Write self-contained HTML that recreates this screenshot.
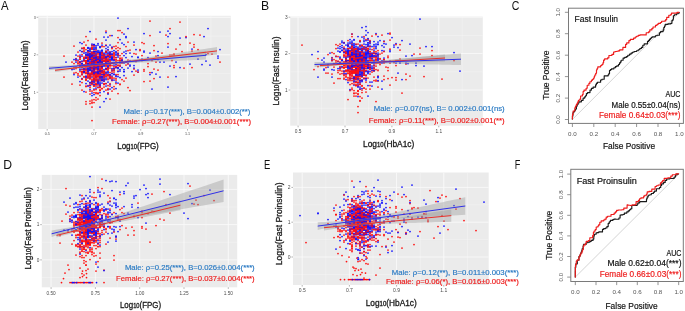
<!DOCTYPE html>
<html><head><meta charset="utf-8"><title>Figure</title>
<style>html,body{margin:0;padding:0;background:#fff;overflow:hidden}svg{display:block;will-change:transform}</style>
</head><body><svg width="685" height="311" viewBox="0 0 685 311" font-family="Liberation Sans, sans-serif"><defs><clipPath id="clipA"><rect x="38.2" y="15.8" width="192.60000000000002" height="113.2"/></clipPath><clipPath id="clipB"><rect x="290.2" y="16.6" width="192.60000000000002" height="109.1"/></clipPath><clipPath id="clipD"><rect x="41.8" y="174.9" width="195.39999999999998" height="112.4"/></clipPath><clipPath id="clipE"><rect x="293.0" y="172.5" width="195.7" height="112.5"/></clipPath></defs>
<rect width="685" height="311" fill="#fff"/>
<rect x="38.2" y="15.8" width="192.60000000000002" height="113.2" fill="#EBEBEB"/>
<g clip-path="url(#clipA)">
<line x1="70.58500000000001" y1="15.8" x2="70.58500000000001" y2="129.0" stroke="#f6f6f6" stroke-width="0.45"/>
<line x1="117.35500000000002" y1="15.8" x2="117.35500000000002" y2="129.0" stroke="#f6f6f6" stroke-width="0.45"/>
<line x1="164.125" y1="15.8" x2="164.125" y2="129.0" stroke="#f6f6f6" stroke-width="0.45"/>
<line x1="210.89499999999998" y1="15.8" x2="210.89499999999998" y2="129.0" stroke="#f6f6f6" stroke-width="0.45"/>
<line x1="38.2" y1="36.05" x2="230.8" y2="36.05" stroke="#f6f6f6" stroke-width="0.45"/>
<line x1="38.2" y1="73.55" x2="230.8" y2="73.55" stroke="#f6f6f6" stroke-width="0.45"/>
<line x1="38.2" y1="111.05" x2="230.8" y2="111.05" stroke="#f6f6f6" stroke-width="0.45"/>
<line x1="47.2" y1="15.8" x2="47.2" y2="129.0" stroke="#fafafa" stroke-width="0.85"/>
<line x1="93.97" y1="15.8" x2="93.97" y2="129.0" stroke="#fafafa" stroke-width="0.85"/>
<line x1="140.74" y1="15.8" x2="140.74" y2="129.0" stroke="#fafafa" stroke-width="0.85"/>
<line x1="187.51000000000005" y1="15.8" x2="187.51000000000005" y2="129.0" stroke="#fafafa" stroke-width="0.85"/>
<line x1="38.2" y1="17.299999999999997" x2="230.8" y2="17.299999999999997" stroke="#fafafa" stroke-width="0.85"/>
<line x1="38.2" y1="54.8" x2="230.8" y2="54.8" stroke="#fafafa" stroke-width="0.85"/>
<line x1="38.2" y1="92.3" x2="230.8" y2="92.3" stroke="#fafafa" stroke-width="0.85"/>
<path d="M102 76h0M84 66h0M98 68.5h0M94 68.5h0M98 80.5h0M94 55h0M112 73h0M100 58h0M92 91h0M80 61.5h0M108 55.5h0M168 77h0M98 52h0M96 92.5h0M94 71h0M106 51h0M110 75h0M98 75h0M154 78.5h0" stroke="#FF1010" stroke-width="1.75" stroke-linecap="round"/>
<path d="M170 33.5h0M96 63h0M90 65h0M102 62.5h0M90 48h0M106 52.5h0M84 72.5h0M104 61h0M92 77h0M118 83h0M126 36.5h0M92 54h0M98 67h0M126 62h0M96 58.5h0" stroke="#1010FF" stroke-width="1.75" stroke-linecap="round"/>
<path d="M94 57h0M126 65h0M82 66.5h0M86 104h0M112 79h0M158 70h0M94 70h0M118 37.5h0M92 61.5h0M90 62h0M84 58.5h0M90 74.5h0M100 58h0M100 84.5h0M94 62.5h0M102 68.5h0M86 101.5h0M90 94h0M104 58h0M120 30.5h0" stroke="#FF1010" stroke-width="1.75" stroke-linecap="round"/>
<path d="M98 68h0M96 76.5h0M108 82h0M92 55.5h0M106 79.5h0M164 62h0M86 62h0M88 65.5h0M82 71.5h0M96 65h0M96 55h0M88 70h0M110 75h0M206 54.5h0M92 64.5h0" stroke="#1010FF" stroke-width="1.75" stroke-linecap="round"/>
<path d="M90 101h0M102 57.5h0M96 76.5h0M98 53.5h0M120 65h0M98 62.5h0M92 107h0M90 68.5h0M100 61.5h0M86 60.5h0M116 83.5h0M88 68.5h0M112 47.5h0M102 52.5h0M92 68.5h0M108 50h0M112 54.5h0M84 50h0M92 79h0M104 46.5h0" stroke="#FF1010" stroke-width="1.75" stroke-linecap="round"/>
<path d="M220 49.5h0M90 70.5h0M130 53h0M168 87h0M100 79.5h0M96 88h0M90 58h0M96 75h0M108 75.5h0M88 70.5h0M94 69.5h0M78 60h0M82 43.5h0M138 72h0M96 63h0M98 56.5h0" stroke="#1010FF" stroke-width="1.75" stroke-linecap="round"/>
<path d="M102 55.5h0M90 69h0M90 76.5h0M96 59.5h0M96 68h0M90 75.5h0M88 40.5h0M94 45.5h0M92 53h0M72 69h0M104 64.5h0M102 67.5h0M94 74.5h0M86 86.5h0M152 60.5h0M108 58.5h0M82 72h0M88 70h0M104 61h0M82 63.5h0" stroke="#FF1010" stroke-width="1.75" stroke-linecap="round"/>
<path d="M94 44.5h0M84 60h0M104 54h0M102 60.5h0M82 63.5h0M88 61h0M80 70h0M88 60h0M104 69.5h0M92 55h0M160 77h0M110 60h0M120 71h0M144 52h0M152 72.5h0" stroke="#1010FF" stroke-width="1.75" stroke-linecap="round"/>
<path d="M102 72.5h0M90 73.5h0M92 82.5h0M108 61h0M86 60.5h0M96 39h0M90 85.5h0M84 71h0M96 84h0M92 70h0M100 59h0M94 83h0M104 57h0M100 76.5h0M100 90.5h0M114 46.5h0M92 72h0M100 87.5h0M74 63.5h0M104 87h0" stroke="#FF1010" stroke-width="1.75" stroke-linecap="round"/>
<path d="M82 69h0M80 55h0M104 76h0M102 83h0M104 55.5h0M190 64h0M100 59h0M90 69.5h0M90 82.5h0M96 57h0M82 64h0M94 73h0M160 62h0M98 59h0M96 57h0M168 36.5h0" stroke="#1010FF" stroke-width="1.75" stroke-linecap="round"/>
<path d="M102 71h0M118 65.5h0M88 66.5h0M92 59.5h0M174 55h0M88 76.5h0M80 62h0M92 68h0M110 78.5h0M102 70h0M90 67h0M104 60.5h0M110 72.5h0M90 64h0M108 61.5h0M106 65h0M90 59h0M84 71.5h0M90 78h0M148 63.5h0" stroke="#FF1010" stroke-width="1.75" stroke-linecap="round"/>
<path d="M76 55h0M122 43h0M94 89h0M100 73.5h0M88 48h0M150 53h0M92 70h0M106 72h0M106 51.5h0M98 59.5h0M84 68.5h0M94 66.5h0M88 68h0M92 61h0M96 66h0" stroke="#1010FF" stroke-width="1.75" stroke-linecap="round"/>
<path d="M108 75.5h0M120 84h0M64 77h0M98 54h0M94 64h0M104 75h0M150 21h0M114 86.5h0M116 60h0M166 35h0M118 60.5h0M86 63h0M148 66.5h0M118 65h0M92 83.5h0M92 102h0M80 57.5h0M98 84h0M88 54h0M108 79.5h0" stroke="#FF1010" stroke-width="1.75" stroke-linecap="round"/>
<path d="M132 56.5h0M92 74.5h0M88 57.5h0M108 89.5h0M96 58.5h0M218 56h0M88 73.5h0M86 83.5h0M98 43.5h0M92 57.5h0M96 55h0M100 62h0M88 77.5h0M80 69h0M106 51.5h0M96 84.5h0" stroke="#1010FF" stroke-width="1.75" stroke-linecap="round"/>
<path d="M128 50.5h0M88 51h0M96 89.5h0M92 65.5h0M102 70h0M102 77h0M110 76h0M80 63h0M88 73.5h0M90 66.5h0M76 58.5h0M78 52h0M98 81.5h0M104 60h0M98 80h0M106 52h0M114 68h0M106 69h0M150 81h0M94 74h0" stroke="#FF1010" stroke-width="1.75" stroke-linecap="round"/>
<path d="M88 51h0M90 68h0M104 80h0M112 58.5h0M132 71.5h0M90 66.5h0M92 49h0M112 59.5h0M168 31h0M108 74h0M102 71.5h0M94 63.5h0M94 82h0M98 66h0M90 74.5h0" stroke="#1010FF" stroke-width="1.75" stroke-linecap="round"/>
<path d="M98 62.5h0M102 71h0M88 57.5h0M98 61h0M120 62h0M104 84h0M92 74.5h0M94 72h0M94 62h0M98 74h0M82 54.5h0M98 76.5h0M174 67.5h0M92 71h0M100 95.5h0M84 48.5h0M90 49.5h0M102 79.5h0M100 53h0M110 65h0" stroke="#FF1010" stroke-width="1.75" stroke-linecap="round"/>
<path d="M130 60.5h0M202 64.5h0M108 60h0M104 72h0M94 72h0M96 58.5h0M210 65h0M108 65.5h0M198 59h0M104 53h0M92 72h0M128 63h0M96 51.5h0M176 62h0M86 76h0M112 70.5h0" stroke="#1010FF" stroke-width="1.75" stroke-linecap="round"/>
<path d="M86 55h0M92 49h0M200 35h0M98 62h0M80 71.5h0M96 59.5h0M88 56.5h0M90 103.5h0M96 63.5h0M108 93h0M102 53h0M90 56.5h0M92 73h0M94 53.5h0M108 61h0M86 67.5h0M114 54.5h0M82 61.5h0M118 67.5h0M84 69h0" stroke="#FF1010" stroke-width="1.75" stroke-linecap="round"/>
<path d="M114 70h0M92 62.5h0M150 74.5h0M90 78h0M116 54h0M90 67h0M110 77.5h0M86 54h0M100 76.5h0M110 77.5h0M94 51.5h0M92 72h0M90 76h0M110 52h0M112 54h0" stroke="#1010FF" stroke-width="1.75" stroke-linecap="round"/>
<path d="M98 71.5h0M94 79h0M94 53.5h0M104 71.5h0M154 50.5h0M100 57.5h0M94 62.5h0M118 30.5h0M112 65.5h0M90 53.5h0M90 58h0M92 60.5h0M154 69h0M94 64h0M86 61h0M130 50h0M104 55h0M98 60.5h0M134 45h0" stroke="#FF1010" stroke-width="1.75" stroke-linecap="round"/>
<path d="M112 51.5h0M92 58.5h0M100 71h0M92 45.5h0M106 86h0M100 57h0M98 79h0M124 63h0M104 54.5h0M92 53.5h0M94 52h0M114 74h0M102 59h0M76 60h0M116 75.5h0" stroke="#1010FF" stroke-width="1.75" stroke-linecap="round"/>
<path d="M94 69h0M108 57h0M94 75.5h0M120 55.5h0M102 64.5h0M100 90h0M100 67.5h0M92 53.5h0M102 63.5h0M128 42h0M108 60h0M96 68h0M98 77h0M106 45h0M114 59.5h0M112 48.5h0M86 36.5h0M112 62.5h0M100 80.5h0M84 42h0" stroke="#FF1010" stroke-width="1.75" stroke-linecap="round"/>
<path d="M94 67.5h0M88 60h0M88 69h0M126 37.5h0M108 67h0M106 68.5h0M92 53h0M96 77h0M96 63h0M88 53h0M102 59h0M110 74.5h0M90 61h0M96 57.5h0M86 55h0M94 85h0" stroke="#1010FF" stroke-width="1.75" stroke-linecap="round"/>
<path d="M92 67h0M106 65h0M96 97.5h0M88 77h0M104 81h0M84 71h0M98 76h0M82 71.5h0M88 78h0M98 70h0M94 57.5h0M96 56.5h0M108 54h0M106 56h0M98 61h0M82 79h0M120 60.5h0M96 65h0M96 75.5h0M104 61.5h0" stroke="#FF1010" stroke-width="1.75" stroke-linecap="round"/>
<path d="M100 51h0M104 91.5h0M100 69h0M106 64h0M108 71.5h0M100 56.5h0M114 59.5h0M80 50.5h0M100 47.5h0M168 47h0M108 61.5h0M82 56h0M88 50.5h0M80 57h0M100 69.5h0" stroke="#1010FF" stroke-width="1.75" stroke-linecap="round"/>
<path d="M94 56h0M86 64.5h0M110 99h0M116 66h0M94 60h0M180 44.5h0M116 61.5h0M84 60.5h0M120 48.5h0M100 62h0M116 48.5h0M104 61h0M106 59h0M88 74.5h0M110 60h0M134 69h0M94 68.5h0M106 56h0M144 69.5h0M110 65h0" stroke="#FF1010" stroke-width="1.75" stroke-linecap="round"/>
<path d="M106 63h0M98 68h0M104 75.5h0M102 72h0M90 85.5h0M110 84.5h0M106 54h0M110 54h0M86 66h0M104 60.5h0M92 67.5h0M92 59.5h0M88 50.5h0M94 52.5h0M100 52.5h0M74 69h0" stroke="#1010FF" stroke-width="1.75" stroke-linecap="round"/>
<path d="M114 52.5h0M100 57h0M100 63.5h0M118 74.5h0M104 64.5h0M84 66h0M96 55h0M114 66.5h0M100 73.5h0M100 75.5h0M104 76h0M92 73h0M118 71h0M106 69h0M94 61.5h0M78 65h0M94 66.5h0M198 49.5h0M114 53h0M74 46h0" stroke="#FF1010" stroke-width="1.75" stroke-linecap="round"/>
<path d="M88 69h0M180 67.5h0M92 54.5h0M158 55.5h0M94 56h0M92 81h0M120 66h0M102 67.5h0M112 57.5h0M92 95.5h0M92 72.5h0M114 50.5h0M88 66h0M94 78.5h0M108 67.5h0" stroke="#1010FF" stroke-width="1.75" stroke-linecap="round"/>
<path d="M192 51h0M106 76h0M98 63h0M126 78h0M108 93h0M98 76.5h0M102 66h0M96 56h0M86 78h0M96 72.5h0M106 68.5h0M74 73h0M100 53.5h0M84 57h0M144 43.5h0M120 58.5h0M104 84.5h0M208 53.5h0M122 63h0M110 54h0" stroke="#FF1010" stroke-width="1.75" stroke-linecap="round"/>
<path d="M104 64.5h0M80 62h0M80 42.5h0M92 52h0M76 59h0M90 89.5h0M94 47.5h0M98 87h0M134 65.5h0M94 66.5h0M82 63.5h0M98 58h0M94 56h0M90 68.5h0M84 66.5h0M94 70h0" stroke="#1010FF" stroke-width="1.75" stroke-linecap="round"/>
<path d="M90 56.5h0M94 74.5h0M92 76h0M106 58.5h0M106 76.5h0M110 68h0M82 73.5h0M108 67.5h0M100 71h0M90 54h0M86 69h0M84 65h0M190 43h0M92 81h0M174 65.5h0M98 73h0M96 64h0M180 22h0M92 81.5h0M104 54.5h0" stroke="#FF1010" stroke-width="1.75" stroke-linecap="round"/>
<path d="M86 55h0M100 70h0M110 89h0M100 82h0M130 65h0M94 70h0M88 59.5h0M96 60.5h0M204 36.5h0M108 60.5h0M94 79h0M86 63h0M176 76.5h0M88 64.5h0M86 77.5h0" stroke="#1010FF" stroke-width="1.75" stroke-linecap="round"/>
<path d="M106 72.5h0M82 72h0M102 62h0M112 91h0M86 73h0M140 60h0M110 53.5h0M134 75h0M110 62h0M100 60h0M100 78h0M76 72.5h0M100 71.5h0M106 31h0M138 72h0M112 62.5h0M82 66.5h0M102 57h0M82 67h0M102 67.5h0" stroke="#FF1010" stroke-width="1.75" stroke-linecap="round"/>
<path d="M90 49h0M110 54.5h0M116 57.5h0M82 67h0M118 67.5h0M88 71.5h0M88 72h0M124 71.5h0M90 58h0M100 60.5h0M92 64h0M118 71.5h0M116 82h0M108 53.5h0M92 53.5h0M112 54h0" stroke="#1010FF" stroke-width="1.75" stroke-linecap="round"/>
<path d="M92 47h0M172 55h0M76 60.5h0M96 60h0M134 53.5h0M100 74.5h0M98 59.5h0M136 61.5h0M118 53h0M118 93.5h0M92 56h0M94 46h0M102 77.5h0M92 66.5h0M108 60h0M104 79h0M88 76h0M94 92.5h0M98 69.5h0M122 58h0" stroke="#FF1010" stroke-width="1.75" stroke-linecap="round"/>
<path d="M96 58h0M106 32.5h0M98 63h0M106 78h0M92 72h0M94 60.5h0M102 45h0M96 47h0M126 53.5h0M100 69.5h0M100 64h0M108 55.5h0M138 57h0M102 66.5h0M106 61h0" stroke="#1010FF" stroke-width="1.75" stroke-linecap="round"/>
<path d="M102 73h0M104 61h0M92 60h0M80 76h0M104 58h0M100 53.5h0M94 51h0M100 69.5h0M88 75h0M142 60.5h0M80 59h0M100 73h0M92 84.5h0M110 52h0M92 68.5h0M88 64h0M96 71h0M120 60h0M98 74.5h0M108 56h0" stroke="#FF1010" stroke-width="1.75" stroke-linecap="round"/>
<path d="M102 63h0M116 55h0M116 76.5h0M98 65.5h0M98 69.5h0M98 52h0M92 68h0M122 67.5h0M82 78.5h0M90 58h0M120 62h0M186 37.5h0M104 79h0M94 59.5h0M88 65h0M106 59h0" stroke="#1010FF" stroke-width="1.75" stroke-linecap="round"/>
<path d="M102 65.5h0M92 73h0M112 69.5h0M92 62.5h0M102 67.5h0M80 59h0M142 55.5h0M96 62h0M110 35.5h0M124 81h0M102 88.5h0M110 61h0M108 63h0M100 62.5h0M100 56.5h0M90 76h0M116 67.5h0M100 63h0M100 87h0" stroke="#FF1010" stroke-width="1.75" stroke-linecap="round"/>
<path d="M88 73h0M94 61h0M86 63h0M104 37h0M102 67h0M94 81.5h0M110 57.5h0M72 69.5h0M88 66.5h0M96 62.5h0M100 58h0M100 62h0M80 81.5h0M94 49h0M104 56.5h0" stroke="#1010FF" stroke-width="1.75" stroke-linecap="round"/>
<path d="M112 71h0M100 90h0M114 56.5h0M92 56h0M92 62h0M108 68.5h0M76 68.5h0M102 60h0M98 71h0M84 47.5h0M96 84h0M114 53.5h0M94 78.5h0M98 82h0M92 45h0M94 59h0M102 71h0M88 85.5h0M102 66h0M92 65.5h0" stroke="#FF1010" stroke-width="1.75" stroke-linecap="round"/>
<path d="M100 52.5h0M98 59h0M144 33.5h0M106 60h0M112 73.5h0M100 64h0M112 76h0M100 86h0M100 73.5h0M110 57h0M100 47h0M108 37h0M74 59.5h0M74 74.5h0M114 62.5h0" stroke="#1010FF" stroke-width="1.75" stroke-linecap="round"/>
<path d="M114 78h0M78 56h0M94 102.5h0M88 59.5h0M96 66h0M96 69h0M88 52h0M116 74.5h0M102 43h0M84 65h0M194 44.5h0M114 59h0M122 53.5h0M94 68.5h0M120 84.5h0M102 46.5h0M110 66h0M94 80.5h0M136 54h0M176 49h0" stroke="#FF1010" stroke-width="1.75" stroke-linecap="round"/>
<path d="M110 45h0M90 55.5h0M102 61.5h0M110 55h0M110 52.5h0M100 53h0M82 48.5h0M106 45.5h0M86 57.5h0M90 51h0M92 61.5h0M90 55.5h0M112 68.5h0M88 66h0M122 60.5h0M98 52h0" stroke="#1010FF" stroke-width="1.75" stroke-linecap="round"/>
<path d="M98 57h0M86 92h0M84 72.5h0M90 77.5h0M88 65.5h0M114 69h0M98 62h0M94 72h0M174 54h0M100 86h0M92 64h0M104 60h0M92 54h0M142 42.5h0M108 74.5h0M116 59.5h0M116 46h0M128 64h0M84 51.5h0M100 72h0" stroke="#FF1010" stroke-width="1.75" stroke-linecap="round"/>
<path d="M118 68.5h0M96 55h0M104 65.5h0M88 66h0M96 58.5h0M88 48h0M104 65h0M92 52.5h0M78 77h0M96 62h0M102 50h0M96 59h0M122 61h0M108 64.5h0M94 62h0" stroke="#1010FF" stroke-width="1.75" stroke-linecap="round"/>
<path d="M102 60h0M98 85h0M86 70h0M110 65h0M98 57.5h0M114 89h0M102 56.5h0M84 58h0M84 77h0M94 59h0M90 64h0M90 66h0M96 73.5h0M90 62.5h0M136 71h0M98 66h0M98 99h0M84 65h0M94 56.5h0M104 73.5h0" stroke="#FF1010" stroke-width="1.75" stroke-linecap="round"/>
<path d="M100 56h0M120 69.5h0M98 50.5h0M130 66h0M94 51.5h0M110 77.5h0M102 50.5h0M114 68.5h0M96 51.5h0M112 60h0M100 58.5h0M114 60.5h0M112 59.5h0M134 68h0M86 57.5h0M88 66.5h0" stroke="#1010FF" stroke-width="1.75" stroke-linecap="round"/>
<path d="M98 63.5h0M108 68h0M94 52.5h0M104 71h0M100 65.5h0M100 64h0M86 72.5h0M94 61.5h0M80 85h0M140 50.5h0M90 57.5h0M90 87.5h0M96 81h0M122 59.5h0M112 55.5h0M102 71.5h0M106 58h0M100 63.5h0M98 66h0M78 61h0" stroke="#FF1010" stroke-width="1.75" stroke-linecap="round"/>
<path d="M98 58.5h0M98 63h0M92 57h0M156 74h0M88 86h0M112 62.5h0M96 73h0M126 62h0M110 54h0M86 57.5h0M100 66h0M102 76.5h0M124 55.5h0M94 94.5h0M110 64h0" stroke="#1010FF" stroke-width="1.75" stroke-linecap="round"/>
<path d="M102 80h0M98 93.5h0M94 62.5h0M98 72h0M96 53h0M168 43.5h0M108 61.5h0M88 59.5h0M110 77.5h0M106 61h0M102 74.5h0M84 65h0M108 78h0M108 69.5h0M96 93.5h0M86 63h0M92 47.5h0M94 53.5h0M86 80h0M94 59h0" stroke="#FF1010" stroke-width="1.75" stroke-linecap="round"/>
<path d="M96 57h0M98 83.5h0M96 49h0M100 107h0M96 79.5h0M160 32h0M118 54.5h0M100 64h0M88 55h0M80 66h0M86 55.5h0M116 52.5h0M124 52h0M112 58h0M110 63h0M106 83.5h0" stroke="#1010FF" stroke-width="1.75" stroke-linecap="round"/>
<path d="M92 53h0M106 69.5h0M112 80.5h0M110 57h0M104 71h0M110 76.5h0M106 74h0M90 62.5h0M94 61.5h0M104 73.5h0M96 74.5h0M90 74h0M90 55h0M102 62h0M86 62h0M82 82.5h0M86 49.5h0M106 74.5h0M94 76.5h0M86 86h0" stroke="#FF1010" stroke-width="1.75" stroke-linecap="round"/>
<path d="M92 59.5h0M122 60h0M92 93h0M96 62h0M104 101.5h0M96 48h0M94 64.5h0M144 51h0M106 57h0M126 57.5h0M104 58h0M108 72.5h0M96 66h0M108 72.5h0M206 61h0" stroke="#1010FF" stroke-width="1.75" stroke-linecap="round"/>
<path d="M108 88.5h0M94 59.5h0M118 42.5h0M172 60.5h0M94 90h0M182 51.5h0M110 63h0M96 50h0M92 73h0M114 70.5h0M114 55.5h0M170 55h0M150 35.5h0M84 48h0M92 54h0M90 58.5h0M100 65h0M104 56.5h0M72 62h0M118 47.5h0" stroke="#FF1010" stroke-width="1.75" stroke-linecap="round"/>
<path d="M102 78.5h0M94 44.5h0M100 66.5h0M84 60h0M100 66.5h0M102 55h0M92 44h0M90 64.5h0M98 82.5h0M80 66.5h0M110 63.5h0M108 52h0M82 61h0M76 67h0M114 65h0M94 58h0" stroke="#1010FF" stroke-width="1.75" stroke-linecap="round"/>
<path d="M110 86h0M90 84h0M92 58h0M94 59h0M128 87.5h0M86 73.5h0M108 55h0M98 79h0M96 66.5h0M92 64h0M88 72h0M86 79.5h0M86 56h0M102 80.5h0M94 74.5h0M140 49.5h0M94 72h0M102 88.5h0M92 100h0M184 68h0" stroke="#FF1010" stroke-width="1.75" stroke-linecap="round"/>
<path d="M96 72h0M98 59h0M86 69h0M106 40h0M110 59h0M218 58h0M108 47h0M100 92.5h0M88 71h0M82 74.5h0M112 87.5h0M180 38h0M104 77.5h0M88 55.5h0M100 46.5h0" stroke="#1010FF" stroke-width="1.75" stroke-linecap="round"/>
<path d="M86 80h0M120 66h0M78 63h0M82 51.5h0M102 62.5h0M106 90h0M110 65h0M120 58h0M98 73h0M98 56h0M92 48h0M104 75.5h0M90 54.5h0M108 89.5h0M90 67h0M96 59h0M96 80h0M98 60.5h0M106 58h0" stroke="#FF1010" stroke-width="1.75" stroke-linecap="round"/>
<path d="M100 83.5h0M108 94h0M88 81h0M118 53.5h0M134 42h0M110 56.5h0M92 81.5h0M170 66h0M88 63.5h0M96 77.5h0M106 62.5h0M92 71h0M94 44.5h0M106 61.5h0M138 57.5h0" stroke="#1010FF" stroke-width="1.75" stroke-linecap="round"/>
<path d="M100 74.5h0M194 47h0M92 58h0M96 75.5h0M90 73h0M86 62.5h0M96 65h0M100 74h0M108 85.5h0M84 66.5h0M100 78h0M82 90h0M98 93.5h0M110 56h0M100 65.5h0M86 63.5h0M64 56h0M96 55h0M96 66.5h0M92 80h0" stroke="#FF1010" stroke-width="1.75" stroke-linecap="round"/>
<path d="M120 63h0M118 55.5h0M100 71.5h0M100 60.5h0M136 49.5h0M208 28.5h0M98 62.5h0M90 66h0M94 52h0M128 28.5h0M90 31.5h0M100 54.5h0M94 80h0M94 55h0M124 75.5h0M86 52.5h0" stroke="#1010FF" stroke-width="1.75" stroke-linecap="round"/>
<path d="M90 82.5h0M116 80h0M94 99.5h0M110 57h0M88 63h0M96 100h0M90 63.5h0M84 65.5h0M90 65h0M92 58.5h0M82 48h0M74 67.5h0M108 64h0M96 77h0M92 60.5h0M84 69.5h0M84 58h0M128 60h0M80 56.5h0M96 84.5h0" stroke="#FF1010" stroke-width="1.75" stroke-linecap="round"/>
<path d="M102 63h0M102 52.5h0M128 68h0M88 54.5h0M114 80h0M100 85h0M94 52.5h0M112 35.5h0M94 49h0M102 58.5h0M112 58h0M106 48.5h0M106 98.5h0M94 72h0M92 83h0" stroke="#1010FF" stroke-width="1.75" stroke-linecap="round"/>
<path d="M156 56h0M154 45.5h0M144 81.5h0M102 52h0M104 72.5h0M96 79h0M108 60.5h0M212 54h0M106 66.5h0M122 62.5h0M96 86h0M94 77.5h0M92 120.5h0M94 79.5h0M96 69h0M102 54.5h0M90 63h0M94 66h0M92 64.5h0M170 28.5h0" stroke="#FF1010" stroke-width="1.75" stroke-linecap="round"/>
<path d="M102 80.5h0M100 54.5h0M118 76.5h0M96 53h0M98 81h0M94 68h0M96 60.5h0M106 73h0M102 71h0M124 71.5h0M108 61.5h0M116 51.5h0M100 58h0M104 81h0M148 57.5h0M94 55.5h0" stroke="#1010FF" stroke-width="1.75" stroke-linecap="round"/>
<path d="M98 58h0M156 62h0M90 91h0M106 52h0M126 46.5h0M220 62h0M110 83.5h0M94 69.5h0M82 74.5h0M94 52.5h0M106 65h0M92 65h0M104 58h0M94 56h0M90 56.5h0M82 79h0M96 73.5h0M118 54.5h0M110 55.5h0M162 53h0" stroke="#FF1010" stroke-width="1.75" stroke-linecap="round"/>
<path d="M98 62h0M84 91.5h0M94 71h0M106 68.5h0M104 66h0M90 59.5h0M86 66h0M116 67.5h0M102 62h0M96 45.5h0M100 55h0M84 69h0M66 62h0M88 60.5h0M98 57.5h0" stroke="#1010FF" stroke-width="1.75" stroke-linecap="round"/>
<path d="M150 72.5h0M96 66h0M108 75.5h0M100 69h0M90 62.5h0M90 53.5h0M100 65h0M90 79h0M100 58h0M94 65h0M96 78h0M84 61h0M96 62.5h0M116 66.5h0M92 63h0M92 72h0M86 57.5h0M92 82.5h0M86 45h0M94 66.5h0" stroke="#FF1010" stroke-width="1.75" stroke-linecap="round"/>
<path d="M108 66.5h0M98 72.5h0M102 51h0M152 89h0M102 77h0M92 63.5h0M90 70h0M90 56.5h0M98 66h0M118 57h0M88 61.5h0M88 47.5h0M106 57.5h0M98 45h0M120 39.5h0M94 69h0" stroke="#1010FF" stroke-width="1.75" stroke-linecap="round"/>
<path d="M92 64h0M96 63.5h0M100 69h0M102 64.5h0M116 78.5h0M122 79.5h0M96 62h0M88 59h0M106 59.5h0M100 69h0M106 64.5h0M94 86h0M86 69.5h0M102 63.5h0M104 74.5h0M112 77h0M144 71h0M82 69.5h0M90 76h0M112 63h0" stroke="#FF1010" stroke-width="1.75" stroke-linecap="round"/>
<path d="M94 84.5h0M138 70h0M90 65.5h0M94 51.5h0M102 80h0M94 61h0M90 55h0M158 51.5h0M76 62h0M100 60.5h0M82 51.5h0M126 51h0M108 56.5h0M84 53h0M106 62h0" stroke="#1010FF" stroke-width="1.75" stroke-linecap="round"/>
<path d="M106 60.5h0M102 72h0M96 83h0M86 76.5h0M108 60.5h0M90 53h0M98 87.5h0M90 63.5h0M84 76.5h0M114 57.5h0M104 77.5h0M92 48.5h0M86 71h0M98 64h0M78 63h0M90 68h0M94 71h0M92 103h0M100 78h0M94 67h0" stroke="#FF1010" stroke-width="1.75" stroke-linecap="round"/>
<path d="M96 59h0M114 74.5h0M94 66.5h0M80 65.5h0M90 57h0M92 64h0M86 58h0M100 57.5h0M120 77.5h0M94 73.5h0M142 59h0M92 55h0M90 82.5h0M102 74.5h0M94 64.5h0M84 72h0" stroke="#1010FF" stroke-width="1.75" stroke-linecap="round"/>
<path d="M194 34.5h0M104 63.5h0M120 60.5h0M106 65h0M122 32.5h0M186 36.5h0M92 68h0M114 72h0M106 83.5h0M106 75h0M110 63h0M72 84h0M118 50.5h0M100 63h0M96 80.5h0M80 64.5h0M192 67.5h0M102 67.5h0M102 53h0M108 70h0" stroke="#FF1010" stroke-width="1.75" stroke-linecap="round"/>
<path d="M96 67.5h0M124 44.5h0M106 57h0M116 64.5h0M112 56.5h0M98 71.5h0M90 53.5h0M112 80h0M88 63.5h0M86 76.5h0M94 63h0M108 49.5h0M90 59.5h0M98 73.5h0M100 77.5h0" stroke="#1010FF" stroke-width="1.75" stroke-linecap="round"/>
<path d="M92 52h0M98 93h0M88 65.5h0M88 66h0M130 90.5h0M96 61.5h0M100 66h0M104 83.5h0M112 78h0M116 57.5h0M94 59.5h0M104 60.5h0M98 76h0M78 75h0M98 57.5h0M78 73.5h0M102 58h0M106 61.5h0M94 86h0M88 58.5h0" stroke="#FF1010" stroke-width="1.75" stroke-linecap="round"/>
<path d="M124 69.5h0M112 47h0M116 88.5h0M118 18h0M124 34h0M92 56h0M90 57.5h0M90 67.5h0M94 58h0M104 74.5h0M90 51h0M192 49h0M100 61.5h0M102 66.5h0M84 71.5h0M158 59.5h0" stroke="#1010FF" stroke-width="1.75" stroke-linecap="round"/>
<polygon points="55.0,68.6 59.2,68.2 63.3,67.8 67.5,67.4 71.6,67.0 75.8,66.6 79.9,66.2 84.1,65.7 88.2,65.3 92.4,64.8 96.5,64.3 100.7,63.8 104.8,63.3 109.0,62.8 113.2,62.2 117.3,61.7 121.5,61.1 125.6,60.5 129.8,59.9 133.9,59.4 138.1,58.8 142.2,58.2 146.4,57.6 150.5,57.0 154.7,56.3 158.8,55.7 163.0,55.1 167.2,54.5 171.3,53.9 175.5,53.3 179.6,52.7 183.8,52.1 187.9,51.4 192.1,50.8 196.2,50.2 200.4,49.6 204.5,49.0 208.7,48.3 212.8,47.7 217.0,47.1 217.0,54.7 212.8,55.1 208.7,55.4 204.5,55.8 200.4,56.2 196.2,56.6 192.1,57.0 187.9,57.3 183.8,57.7 179.6,58.1 175.5,58.5 171.3,58.8 167.2,59.2 163.0,59.6 158.8,60.0 154.7,60.4 150.5,60.8 146.4,61.2 142.2,61.5 138.1,61.9 133.9,62.3 129.8,62.7 125.6,63.2 121.5,63.6 117.3,64.0 113.2,64.4 109.0,64.9 104.8,65.4 100.7,65.8 96.5,66.3 92.4,66.8 88.2,67.4 84.1,67.9 79.9,68.5 75.8,69.0 71.6,69.6 67.5,70.2 63.3,70.8 59.2,71.4 55.0,72.0" fill="#999" fill-opacity="0.4"/>
<polygon points="49.0,66.3 53.0,66.1 57.1,65.9 61.1,65.7 65.1,65.5 69.1,65.3 73.2,65.0 77.2,64.8 81.2,64.5 85.2,64.2 89.3,63.9 93.3,63.6 97.3,63.3 101.3,62.9 105.4,62.6 109.4,62.2 113.4,61.8 117.4,61.3 121.5,60.9 125.5,60.5 129.5,60.0 133.5,59.6 137.6,59.1 141.6,58.7 145.6,58.2 149.6,57.7 153.7,57.3 157.7,56.8 161.7,56.3 165.7,55.8 169.8,55.4 173.8,54.9 177.8,54.4 181.8,54.0 185.9,53.5 189.9,53.0 193.9,52.5 197.9,52.1 202.0,51.6 206.0,51.1 206.0,59.5 202.0,59.7 197.9,59.9 193.9,60.1 189.9,60.3 185.9,60.5 181.8,60.6 177.8,60.8 173.8,61.0 169.8,61.2 165.7,61.4 161.7,61.6 157.7,61.8 153.7,62.0 149.6,62.2 145.6,62.4 141.6,62.6 137.6,62.8 133.5,63.0 129.5,63.2 125.5,63.5 121.5,63.7 117.4,63.9 113.4,64.2 109.4,64.4 105.4,64.7 101.3,65.0 97.3,65.3 93.3,65.6 89.3,66.0 85.2,66.4 81.2,66.8 77.2,67.2 73.2,67.6 69.1,68.0 65.1,68.5 61.1,68.9 57.1,69.3 53.0,69.8 49.0,70.3" fill="#999" fill-opacity="0.4"/>
<line x1="55" y1="70.3" x2="217" y2="50.9" stroke="#E8302A" stroke-width="1.0"/>
<line x1="49" y1="68.3" x2="206" y2="55.3" stroke="#3030E8" stroke-width="1.0"/>
</g>
<line x1="47.2" y1="129.0" x2="47.2" y2="130.6" stroke="#555" stroke-width="0.45"/>
<text x="47.2" y="135.0" font-size="3.7" fill="#4a4a4a" text-anchor="middle">0.5</text>
<line x1="93.97" y1="129.0" x2="93.97" y2="130.6" stroke="#555" stroke-width="0.45"/>
<text x="93.97" y="135.0" font-size="3.7" fill="#4a4a4a" text-anchor="middle">0.7</text>
<line x1="140.74" y1="129.0" x2="140.74" y2="130.6" stroke="#555" stroke-width="0.45"/>
<text x="140.74" y="135.0" font-size="3.7" fill="#4a4a4a" text-anchor="middle">0.9</text>
<line x1="187.51000000000005" y1="129.0" x2="187.51000000000005" y2="130.6" stroke="#555" stroke-width="0.45"/>
<text x="187.51000000000005" y="135.0" font-size="3.7" fill="#4a4a4a" text-anchor="middle">1.1</text>
<line x1="36.6" y1="17.299999999999997" x2="38.2" y2="17.299999999999997" stroke="#555" stroke-width="0.45"/>
<text x="35.7" y="18.63" font-size="3.7" fill="#4a4a4a" text-anchor="end">3</text>
<line x1="36.6" y1="54.8" x2="38.2" y2="54.8" stroke="#555" stroke-width="0.45"/>
<text x="35.7" y="56.13" font-size="3.7" fill="#4a4a4a" text-anchor="end">2</text>
<line x1="36.6" y1="92.3" x2="38.2" y2="92.3" stroke="#555" stroke-width="0.45"/>
<text x="35.7" y="93.63" font-size="3.7" fill="#4a4a4a" text-anchor="end">1</text>
<rect x="290.2" y="16.6" width="192.60000000000002" height="109.1" fill="#EBEBEB"/>
<g clip-path="url(#clipB)">
<line x1="321.55" y1="16.6" x2="321.55" y2="125.7" stroke="#f6f6f6" stroke-width="0.45"/>
<line x1="368.45000000000005" y1="16.6" x2="368.45000000000005" y2="125.7" stroke="#f6f6f6" stroke-width="0.45"/>
<line x1="415.35" y1="16.6" x2="415.35" y2="125.7" stroke="#f6f6f6" stroke-width="0.45"/>
<line x1="462.25" y1="16.6" x2="462.25" y2="125.7" stroke="#f6f6f6" stroke-width="0.45"/>
<line x1="290.2" y1="35.400000000000006" x2="482.8" y2="35.400000000000006" stroke="#f6f6f6" stroke-width="0.45"/>
<line x1="290.2" y1="71.8" x2="482.8" y2="71.8" stroke="#f6f6f6" stroke-width="0.45"/>
<line x1="290.2" y1="108.19999999999999" x2="482.8" y2="108.19999999999999" stroke="#f6f6f6" stroke-width="0.45"/>
<line x1="298.1" y1="16.6" x2="298.1" y2="125.7" stroke="#fafafa" stroke-width="0.85"/>
<line x1="345.0" y1="16.6" x2="345.0" y2="125.7" stroke="#fafafa" stroke-width="0.85"/>
<line x1="391.90000000000003" y1="16.6" x2="391.90000000000003" y2="125.7" stroke="#fafafa" stroke-width="0.85"/>
<line x1="438.80000000000007" y1="16.6" x2="438.80000000000007" y2="125.7" stroke="#fafafa" stroke-width="0.85"/>
<line x1="290.2" y1="17.200000000000003" x2="482.8" y2="17.200000000000003" stroke="#fafafa" stroke-width="0.85"/>
<line x1="290.2" y1="53.6" x2="482.8" y2="53.6" stroke="#fafafa" stroke-width="0.85"/>
<line x1="290.2" y1="90.0" x2="482.8" y2="90.0" stroke="#fafafa" stroke-width="0.85"/>
<path d="M362 77h0M370 85.5h0M352 62.5h0M358 67h0M358 66.5h0M378 50.5h0M376 69.5h0M356 73h0M356 65.5h0M336 60.5h0M348 55.5h0M362 73.5h0M348 53.5h0M366 70.5h0M348 52h0M356 68.5h0M354 50h0M352 58.5h0M350 55.5h0M406 64h0" stroke="#FF1010" stroke-width="1.75" stroke-linecap="round"/>
<path d="M382 89h0M376 47h0M356 46.5h0M354 61.5h0M348 53.5h0M356 69.5h0M358 66.5h0M354 56h0M360 84h0M354 85h0M364 41.5h0M368 50.5h0M358 87h0M372 86h0M368 40h0" stroke="#1010FF" stroke-width="1.75" stroke-linecap="round"/>
<path d="M362 63.5h0M358 62.5h0M350 52h0M350 63.5h0M406 79.5h0M370 58.5h0M318 58.5h0M356 63h0M350 63h0M354 66h0M344 71h0M352 46.5h0M360 80.5h0M360 45.5h0M362 86h0M358 72.5h0M364 58h0M356 67h0M356 67.5h0M358 67.5h0" stroke="#FF1010" stroke-width="1.75" stroke-linecap="round"/>
<path d="M370 41.5h0M362 55.5h0M352 55h0M364 60.5h0M358 54.5h0M332 57.5h0M358 78.5h0M362 59.5h0M348 63.5h0M372 53.5h0M350 58h0M362 46.5h0M350 43.5h0M384 58h0M356 71h0" stroke="#1010FF" stroke-width="1.75" stroke-linecap="round"/>
<path d="M348 60.5h0M356 55.5h0M356 71.5h0M372 49.5h0M366 66.5h0M396 60.5h0M332 52.5h0M350 51h0M356 67.5h0M348 56h0M360 65h0M366 54.5h0M360 59h0M360 75h0M354 51.5h0M372 56h0M354 56.5h0M354 63h0M358 63.5h0M358 93.5h0" stroke="#FF1010" stroke-width="1.75" stroke-linecap="round"/>
<path d="M332 69.5h0M366 62h0M356 57h0M368 63.5h0M358 61.5h0M372 53h0M338 61.5h0M362 76h0M346 59h0M362 51.5h0M364 49.5h0M362 50h0M356 78h0M364 57.5h0M364 57.5h0M360 41.5h0" stroke="#1010FF" stroke-width="1.75" stroke-linecap="round"/>
<path d="M356 74.5h0M342 71h0M354 70h0M346 52.5h0M352 46.5h0M362 73.5h0M372 72h0M388 57.5h0M364 68h0M332 58h0M366 70.5h0M352 58h0M358 55h0M364 88h0M354 61h0M356 51.5h0M356 59h0M350 61.5h0M354 60.5h0M350 68.5h0" stroke="#FF1010" stroke-width="1.75" stroke-linecap="round"/>
<path d="M350 58.5h0M366 68.5h0M360 64h0M342 59.5h0M350 59h0M356 62.5h0M356 58.5h0M408 63.5h0M354 65h0M366 60h0M374 61h0M368 50.5h0M362 59h0M354 58h0M354 48.5h0" stroke="#1010FF" stroke-width="1.75" stroke-linecap="round"/>
<path d="M356 59.5h0M356 55h0M354 54.5h0M362 67.5h0M356 67.5h0M362 68.5h0M402 93h0M360 60.5h0M356 77h0M348 99.5h0M368 46.5h0M376 66h0M350 75h0M376 81h0M372 62.5h0M348 40.5h0M360 64.5h0M354 78.5h0M362 50h0M348 54h0" stroke="#FF1010" stroke-width="1.75" stroke-linecap="round"/>
<path d="M378 59h0M350 57.5h0M368 85.5h0M360 52.5h0M360 55.5h0M366 75h0M364 58h0M358 61h0M352 67.5h0M356 63.5h0M352 50h0M350 60.5h0M342 60.5h0M398 47.5h0M340 46.5h0M360 49.5h0" stroke="#1010FF" stroke-width="1.75" stroke-linecap="round"/>
<path d="M362 61.5h0M360 63h0M358 69.5h0M356 78h0M344 52.5h0M368 78h0M374 70h0M364 68.5h0M352 54.5h0M352 62.5h0M352 64h0M356 54.5h0M344 63h0M358 53h0M358 65.5h0M366 78h0M364 54.5h0M362 58h0M344 75.5h0M360 84.5h0" stroke="#FF1010" stroke-width="1.75" stroke-linecap="round"/>
<path d="M370 49h0M378 77.5h0M374 65.5h0M358 54h0M356 69h0M360 55h0M368 61h0M356 55.5h0M352 55h0M360 75h0M358 68h0M358 60.5h0M360 62h0M378 42h0M358 67.5h0" stroke="#1010FF" stroke-width="1.75" stroke-linecap="round"/>
<path d="M350 76h0M378 76h0M454 60.5h0M356 59.5h0M340 62.5h0M318 66.5h0M356 57h0M358 77h0M314 69.5h0M354 72h0M340 66.5h0M354 67h0M352 66.5h0M370 57h0M348 45.5h0M374 65h0M368 68.5h0M350 90.5h0M358 82h0M346 52.5h0" stroke="#FF1010" stroke-width="1.75" stroke-linecap="round"/>
<path d="M382 81h0M370 55.5h0M362 70h0M358 76.5h0M358 56.5h0M376 33.5h0M338 51h0M354 45h0M400 61.5h0M340 63.5h0M366 53.5h0M354 58.5h0M352 63.5h0M390 51.5h0M364 60h0M394 47h0" stroke="#1010FF" stroke-width="1.75" stroke-linecap="round"/>
<path d="M350 56h0M400 44.5h0M348 79h0M370 67.5h0M358 65h0M368 39h0M352 74h0M344 55h0M336 44.5h0M334 83h0M350 54h0M368 61h0M372 60.5h0M378 81h0M374 48h0M406 74h0M356 66.5h0M364 67.5h0M396 65.5h0M354 73h0" stroke="#FF1010" stroke-width="1.75" stroke-linecap="round"/>
<path d="M362 61.5h0M350 71.5h0M348 49.5h0M350 57h0M360 55h0M368 66.5h0M360 57h0M352 52.5h0M360 55.5h0M352 66h0M354 52.5h0M348 70h0M360 55.5h0M360 71h0M372 68h0" stroke="#1010FF" stroke-width="1.75" stroke-linecap="round"/>
<path d="M354 93.5h0M348 48.5h0M358 91h0M348 77.5h0M354 79.5h0M344 63h0M356 62.5h0M364 65.5h0M366 59h0M348 44.5h0M358 54.5h0M360 100.5h0M356 71h0M360 89h0M350 55.5h0M346 61.5h0M362 92.5h0M350 55h0M344 51.5h0M352 52h0" stroke="#FF1010" stroke-width="1.75" stroke-linecap="round"/>
<path d="M352 53h0M356 65.5h0M368 63.5h0M364 38h0M360 41.5h0M352 50h0M366 35h0M358 70.5h0M354 52.5h0M364 59.5h0M362 88.5h0M368 64h0M356 81.5h0M356 62h0M364 73h0M396 43.5h0" stroke="#1010FF" stroke-width="1.75" stroke-linecap="round"/>
<path d="M342 59.5h0M358 72h0M356 65.5h0M350 66h0M358 82.5h0M328 54.5h0M368 51.5h0M374 77h0M352 61.5h0M354 63.5h0M370 54h0M346 64.5h0M354 77.5h0M356 65.5h0M362 63.5h0M344 48.5h0M354 82h0M348 80.5h0M380 54h0M382 53h0" stroke="#FF1010" stroke-width="1.75" stroke-linecap="round"/>
<path d="M384 51h0M340 58h0M346 51h0M366 40.5h0M460 71h0M362 80.5h0M350 56.5h0M358 51.5h0M378 36.5h0M366 63.5h0M358 54.5h0M356 72.5h0M352 61h0M360 74h0M368 71.5h0" stroke="#1010FF" stroke-width="1.75" stroke-linecap="round"/>
<path d="M368 62.5h0M370 51.5h0M356 62h0M384 63h0M372 70.5h0M354 63h0M352 76h0M390 40h0M358 71h0M346 58.5h0M354 51h0M354 52h0M348 63.5h0M344 78h0M362 71h0M352 63.5h0M364 69.5h0M346 70.5h0M358 70.5h0M380 58.5h0" stroke="#FF1010" stroke-width="1.75" stroke-linecap="round"/>
<path d="M374 60h0M390 50h0M378 55h0M364 44h0M356 44.5h0M364 75h0M358 75h0M368 56h0M388 33.5h0M358 69h0M426 46.5h0M362 72.5h0M358 62h0M354 63h0M358 84h0M358 58h0" stroke="#1010FF" stroke-width="1.75" stroke-linecap="round"/>
<path d="M360 61h0M378 55h0M328 73h0M352 67.5h0M352 50h0M352 64.5h0M364 75h0M352 55.5h0M352 59h0M368 48.5h0M350 73.5h0M348 48.5h0M326 73h0M360 84h0M364 55h0M356 64h0M356 71h0M342 64h0M360 64h0M344 74.5h0" stroke="#FF1010" stroke-width="1.75" stroke-linecap="round"/>
<path d="M352 49h0M370 60.5h0M364 48h0M356 62h0M350 66.5h0M352 78.5h0M374 44.5h0M416 65.5h0M354 60.5h0M350 89.5h0M356 69h0M358 48.5h0M340 57h0M370 67.5h0M312 54.5h0" stroke="#1010FF" stroke-width="1.75" stroke-linecap="round"/>
<path d="M356 60.5h0M356 63.5h0M358 54h0M358 61h0M346 55h0M350 57.5h0M358 64h0M336 48.5h0M352 62h0M358 58.5h0M388 78.5h0M362 75.5h0M362 66h0M358 49.5h0M384 79.5h0M360 64.5h0M360 60.5h0M358 91h0M374 51.5h0M338 78.5h0" stroke="#FF1010" stroke-width="1.75" stroke-linecap="round"/>
<path d="M384 60h0M350 50.5h0M362 67h0M364 71.5h0M390 61h0M354 70h0M378 56.5h0M354 76.5h0M378 60h0M364 64h0M360 65h0M370 82h0M340 48.5h0M356 62h0M368 63h0M348 46.5h0" stroke="#1010FF" stroke-width="1.75" stroke-linecap="round"/>
<path d="M362 85.5h0M340 69h0M366 39.5h0M368 49.5h0M374 53h0M356 54.5h0M362 45.5h0M354 67h0M366 58.5h0M366 75.5h0M372 36h0M396 77.5h0M350 79h0M354 67h0M354 62h0M362 70.5h0M356 77h0M358 50h0M368 71.5h0M358 71.5h0" stroke="#FF1010" stroke-width="1.75" stroke-linecap="round"/>
<path d="M348 55.5h0M360 69h0M376 56.5h0M356 70.5h0M366 26.5h0M358 64h0M352 52.5h0M356 52h0M406 63h0M370 64.5h0M342 41h0M360 54h0M366 61.5h0M358 96.5h0M358 62.5h0" stroke="#1010FF" stroke-width="1.75" stroke-linecap="round"/>
<path d="M354 71.5h0M354 60.5h0M358 58.5h0M364 53h0M350 48h0M356 64.5h0M358 61h0M350 58.5h0M340 62h0M352 75.5h0M374 55.5h0M350 56.5h0M400 59h0M356 60h0M338 72.5h0M350 53.5h0M346 52.5h0M362 75h0M362 59h0M366 66h0" stroke="#FF1010" stroke-width="1.75" stroke-linecap="round"/>
<path d="M368 68h0M358 57.5h0M356 57h0M372 63h0M352 60.5h0M362 59.5h0M356 59h0M354 50.5h0M356 56.5h0M348 70.5h0M362 76h0M352 60h0M380 62h0M358 73h0M368 42.5h0M412 55.5h0" stroke="#1010FF" stroke-width="1.75" stroke-linecap="round"/>
<path d="M352 61.5h0M352 68h0M356 64.5h0M346 70.5h0M358 62h0M364 59h0M346 60.5h0M368 52.5h0M340 67.5h0M358 94.5h0M364 60.5h0M390 63h0M390 33h0M364 55.5h0M366 55.5h0M360 69h0M356 70h0M374 71h0M348 66.5h0M356 44h0" stroke="#FF1010" stroke-width="1.75" stroke-linecap="round"/>
<path d="M332 77h0M362 52h0M366 53h0M362 61h0M348 82.5h0M352 63.5h0M352 34h0M362 62.5h0M352 60h0M366 58h0M356 69h0M348 54h0M348 51h0M348 50.5h0M354 50h0" stroke="#1010FF" stroke-width="1.75" stroke-linecap="round"/>
<path d="M360 56.5h0M340 59h0M356 93h0M360 67.5h0M350 63.5h0M362 80h0M396 44.5h0M352 58h0M380 64.5h0M344 72h0M370 55h0M356 66h0M356 53.5h0M358 86h0M352 64h0M356 73.5h0M356 72h0M350 60.5h0M344 49h0M344 68h0" stroke="#FF1010" stroke-width="1.75" stroke-linecap="round"/>
<path d="M368 65h0M354 50h0M358 69h0M356 56.5h0M378 53h0M356 64h0M346 79.5h0M344 42.5h0M360 65.5h0M376 46h0M346 52h0M362 58h0M366 57.5h0M322 60h0M364 55.5h0M358 58h0" stroke="#1010FF" stroke-width="1.75" stroke-linecap="round"/>
<path d="M302 45h0M346 51.5h0M362 66.5h0M358 82.5h0M338 70.5h0M360 78.5h0M360 101h0M348 65.5h0M354 84h0M356 73h0M360 71.5h0M352 72h0M364 65h0M352 59.5h0M352 34h0M372 60.5h0M366 89h0M368 52.5h0M340 78.5h0M382 35h0" stroke="#FF1010" stroke-width="1.75" stroke-linecap="round"/>
<path d="M364 66h0M376 55.5h0M346 63h0M364 54h0M352 63h0M360 45h0M378 80.5h0M372 56h0M344 63.5h0M352 73h0M328 64.5h0M420 19h0M350 39.5h0M366 44.5h0M368 67.5h0" stroke="#1010FF" stroke-width="1.75" stroke-linecap="round"/>
<path d="M344 67.5h0M378 70h0M364 71.5h0M358 69h0M350 77.5h0M374 70.5h0M354 73h0M352 48.5h0M352 60h0M376 59.5h0M352 73.5h0M356 55.5h0M358 61.5h0M378 70.5h0M360 80h0M358 59h0M360 63h0M358 76h0M376 34.5h0M370 62.5h0" stroke="#FF1010" stroke-width="1.75" stroke-linecap="round"/>
<path d="M374 50h0M350 61h0M342 45.5h0M362 57.5h0M356 63h0M318 51.5h0M368 62h0M350 60h0M358 64.5h0M360 52h0M352 54h0M370 67h0M344 52.5h0M334 70h0M370 46.5h0M402 40.5h0" stroke="#1010FF" stroke-width="1.75" stroke-linecap="round"/>
<path d="M350 61.5h0M354 56h0M370 74h0M344 79h0M362 50.5h0M350 74h0M358 60.5h0M364 71.5h0M366 78.5h0M346 53.5h0M370 89h0M354 70.5h0M360 96.5h0M346 57h0M366 57h0M334 59.5h0M346 57h0M358 78.5h0M400 50h0M378 58h0" stroke="#FF1010" stroke-width="1.75" stroke-linecap="round"/>
<path d="M354 81.5h0M352 61h0M348 45h0M366 54h0M378 76.5h0M370 71.5h0M372 66h0M354 54.5h0M324 62h0M374 56h0M350 60.5h0M354 45h0M360 48h0M394 45h0M360 73h0" stroke="#1010FF" stroke-width="1.75" stroke-linecap="round"/>
<path d="M366 64h0M350 69.5h0M356 64h0M344 55h0M348 73h0M350 61h0M360 55h0M374 80.5h0M358 54h0M358 65h0M414 54h0M350 68h0M354 63.5h0M358 60h0M338 56.5h0M356 56.5h0M366 68h0M354 61.5h0M376 63.5h0M360 40.5h0" stroke="#FF1010" stroke-width="1.75" stroke-linecap="round"/>
<path d="M362 74.5h0M364 52h0M358 47.5h0M356 54.5h0M342 50h0M364 70h0M366 57h0M366 78.5h0M370 69h0M362 66.5h0M352 65.5h0M358 47h0M356 48h0M362 66h0M376 44h0" stroke="#1010FF" stroke-width="1.75" stroke-linecap="round"/>
<path d="M432 50.5h0M360 60h0M334 53.5h0M366 63.5h0M370 42.5h0M356 61h0M346 76h0M364 56h0M358 76.5h0M388 67.5h0M352 62h0M352 72.5h0M390 49h0M368 62h0M356 69.5h0M360 66.5h0M354 58.5h0M352 59.5h0M354 61h0M352 63.5h0" stroke="#FF1010" stroke-width="1.75" stroke-linecap="round"/>
<path d="M354 62h0M382 50.5h0M360 67h0M360 63h0M324 69h0M366 57h0M358 63.5h0M360 49h0M364 68.5h0M348 51.5h0M356 59h0M350 63.5h0M370 56.5h0M336 56.5h0M354 55h0M406 56h0" stroke="#1010FF" stroke-width="1.75" stroke-linecap="round"/>
<path d="M354 55h0M356 65h0M350 65.5h0M350 80.5h0M352 59.5h0M338 63.5h0M356 78.5h0M352 64h0M346 65h0M370 60.5h0M350 58.5h0M344 67.5h0M334 67h0M358 53.5h0M348 60.5h0M352 89.5h0M354 63h0M348 55h0M358 74.5h0M358 71.5h0" stroke="#FF1010" stroke-width="1.75" stroke-linecap="round"/>
<path d="M356 62.5h0M358 61h0M324 70h0M366 49h0M348 50.5h0M350 71.5h0M368 55h0M400 63h0M354 40h0M348 68.5h0M368 53h0M350 47h0M340 63h0M358 86h0M358 51.5h0" stroke="#1010FF" stroke-width="1.75" stroke-linecap="round"/>
<path d="M352 36.5h0M380 63h0M360 54.5h0M366 75.5h0M356 62h0M376 54h0M358 54h0M352 43.5h0M374 67h0M356 85.5h0M356 48.5h0M356 56h0M356 71.5h0M362 66h0M420 48h0M370 66.5h0M362 61h0M350 71h0M350 60.5h0M358 106.5h0" stroke="#FF1010" stroke-width="1.75" stroke-linecap="round"/>
<path d="M358 73.5h0M362 68.5h0M368 65.5h0M366 49.5h0M364 73.5h0M356 74h0M324 58h0M350 68.5h0M366 54.5h0M384 41h0M366 53h0M344 48.5h0M364 61h0M368 68h0M360 70.5h0M342 50.5h0" stroke="#1010FF" stroke-width="1.75" stroke-linecap="round"/>
<path d="M374 57.5h0M360 63.5h0M362 49.5h0M356 62.5h0M352 63.5h0M372 57.5h0M370 57.5h0M366 92h0M364 53.5h0M356 60h0M364 36.5h0M358 80h0M358 67h0M360 70h0M370 58.5h0M358 80h0M352 68h0M346 67h0M358 61h0M380 59h0" stroke="#FF1010" stroke-width="1.75" stroke-linecap="round"/>
<path d="M360 61.5h0M362 55.5h0M352 44.5h0M360 62.5h0M344 73.5h0M356 50.5h0M356 53.5h0M340 51.5h0M370 56.5h0M354 54.5h0M348 63h0M366 80h0M384 43.5h0M366 53h0M362 72h0" stroke="#1010FF" stroke-width="1.75" stroke-linecap="round"/>
<path d="M340 74h0M352 62.5h0M356 71.5h0M366 50h0M368 64.5h0M354 56.5h0M354 71.5h0M358 90.5h0M350 51.5h0M354 69.5h0M354 56.5h0M350 72h0M396 80h0M356 58.5h0M360 61.5h0M358 71.5h0M356 63h0M364 88h0M364 70h0M424 76.5h0" stroke="#FF1010" stroke-width="1.75" stroke-linecap="round"/>
<path d="M356 53h0M352 42.5h0M364 65h0M386 44h0M344 71h0M358 57.5h0M432 46.5h0M368 43h0M360 72h0M366 47h0M356 60.5h0M360 89h0M368 51h0M366 63h0M410 44h0M352 49h0" stroke="#1010FF" stroke-width="1.75" stroke-linecap="round"/>
<path d="M360 56.5h0M376 101.5h0M384 59.5h0M366 66h0M372 59h0M358 57.5h0M346 59.5h0M356 63h0M356 53.5h0M370 68.5h0M352 62.5h0M358 50.5h0M356 82.5h0M358 66h0M420 54h0M354 59.5h0M362 57h0M358 55h0M350 84.5h0M370 55.5h0" stroke="#FF1010" stroke-width="1.75" stroke-linecap="round"/>
<path d="M352 49.5h0M354 65.5h0M346 51h0M372 70h0M368 32.5h0M358 54.5h0M354 43.5h0M360 69h0M358 79h0M384 47h0M396 63h0M364 67.5h0M328 67h0M348 52h0M358 75h0" stroke="#1010FF" stroke-width="1.75" stroke-linecap="round"/>
<path d="M348 66h0M356 65.5h0M352 70.5h0M358 70.5h0M366 66.5h0M354 78.5h0M354 58.5h0M356 75h0M368 48.5h0M358 76.5h0M350 55.5h0M352 88h0M346 56.5h0M356 82h0M356 57h0M384 59.5h0M354 60.5h0M366 82h0M360 66.5h0M352 68h0" stroke="#FF1010" stroke-width="1.75" stroke-linecap="round"/>
<path d="M358 53h0M360 54h0M362 51.5h0M348 67h0M348 57h0M370 41.5h0M352 45.5h0M370 56h0M416 63h0M364 64h0M362 50h0M358 62.5h0M364 48.5h0M352 59h0M368 72.5h0M372 55.5h0" stroke="#1010FF" stroke-width="1.75" stroke-linecap="round"/>
<path d="M358 69h0M352 71h0M358 62.5h0M376 53h0M356 55h0M370 62h0M352 66.5h0M352 57h0M376 59.5h0M346 60h0M352 58h0M356 60.5h0M356 49h0M332 74h0M350 59.5h0M360 67.5h0M410 76h0M358 71.5h0M356 96h0M360 76.5h0" stroke="#FF1010" stroke-width="1.75" stroke-linecap="round"/>
<path d="M382 63h0M346 61h0M356 57h0M358 59.5h0M366 58.5h0M362 81.5h0M368 67.5h0M360 59h0M358 63h0M360 74.5h0M362 37h0M356 74.5h0M362 50h0M398 73h0M366 51.5h0" stroke="#1010FF" stroke-width="1.75" stroke-linecap="round"/>
<path d="M352 69.5h0M360 76.5h0M370 64.5h0M362 62h0M356 54.5h0M360 82h0M358 49h0M354 50h0M362 57.5h0M342 63h0M360 41h0M348 55h0M352 47.5h0M352 78h0M378 87h0M384 41.5h0M350 70h0M362 90h0M358 68h0M340 44h0" stroke="#FF1010" stroke-width="1.75" stroke-linecap="round"/>
<path d="M362 55h0M382 45.5h0M356 79.5h0M366 30.5h0M424 66h0M366 64h0M370 46h0M378 54.5h0M366 55h0M368 62.5h0M362 56.5h0M362 48h0M338 48h0M358 36.5h0M358 61h0M374 68h0" stroke="#1010FF" stroke-width="1.75" stroke-linecap="round"/>
<path d="M346 71.5h0M358 57.5h0M354 76.5h0M358 44h0M364 63.5h0M358 85h0M376 58h0M352 83.5h0M364 60.5h0M346 67h0M354 50h0M346 77h0M364 78.5h0M348 71.5h0M368 62h0M358 112.5h0M356 62h0M364 61h0M356 57h0M348 70h0" stroke="#FF1010" stroke-width="1.75" stroke-linecap="round"/>
<path d="M358 50.5h0M358 49h0M352 69.5h0M366 57.5h0M362 49.5h0M364 59.5h0M340 52h0M354 78.5h0M332 60.5h0M366 60h0M366 71.5h0M378 60h0M350 55h0M348 54.5h0M362 60.5h0" stroke="#1010FF" stroke-width="1.75" stroke-linecap="round"/>
<path d="M346 70h0M362 62.5h0M350 67h0M370 51.5h0M360 58.5h0M376 51.5h0M352 67.5h0M352 63.5h0M352 80.5h0M388 70.5h0M352 49h0M376 59.5h0M350 57.5h0M362 53h0M362 98h0M354 47.5h0M344 51h0M360 46.5h0M338 61h0M352 63h0" stroke="#FF1010" stroke-width="1.75" stroke-linecap="round"/>
<path d="M348 43h0M368 45h0M350 42h0M318 77h0M354 39.5h0M346 58h0M352 55.5h0M370 65h0M362 65h0M354 77.5h0M364 47h0M358 60h0M352 62h0M354 53.5h0M398 60.5h0M364 59.5h0" stroke="#1010FF" stroke-width="1.75" stroke-linecap="round"/>
<path d="M364 64.5h0M370 60h0M358 69.5h0M354 72.5h0M370 40.5h0M362 49h0M364 64h0M384 62h0M352 65h0M394 62.5h0M354 59.5h0M344 65.5h0M360 67.5h0M362 60h0M362 51.5h0M334 63.5h0M352 51.5h0M358 68.5h0M350 59h0M364 66.5h0" stroke="#FF1010" stroke-width="1.75" stroke-linecap="round"/>
<path d="M378 58h0M360 63h0M368 54h0M352 59h0M358 62.5h0M356 74.5h0M356 56h0M368 66.5h0M372 68h0M368 71h0M364 57.5h0M364 78.5h0M352 61.5h0M378 44.5h0M348 67.5h0" stroke="#1010FF" stroke-width="1.75" stroke-linecap="round"/>
<path d="M362 57h0M342 67.5h0M344 65.5h0M376 60.5h0M370 54.5h0M368 66h0M346 53h0M346 74.5h0M344 42.5h0M354 93h0M364 48.5h0M354 63h0M370 46.5h0M372 53.5h0M356 63.5h0M336 56h0M370 64.5h0M326 67.5h0M364 54h0M340 70.5h0" stroke="#FF1010" stroke-width="1.75" stroke-linecap="round"/>
<path d="M374 46h0M360 55.5h0M372 82h0M368 64.5h0M366 47.5h0M354 66h0M348 52.5h0M376 48.5h0M346 51.5h0M344 57h0M354 61h0M356 55.5h0M352 66.5h0M360 62h0M368 53.5h0M342 66.5h0" stroke="#1010FF" stroke-width="1.75" stroke-linecap="round"/>
<path d="M384 51.5h0M354 96h0M344 56h0M354 53h0M364 73h0M348 73.5h0M348 60.5h0M364 65h0M346 60h0M358 69.5h0M364 46.5h0M358 58h0M346 59.5h0M352 71.5h0M350 74.5h0M354 67h0M364 55.5h0M368 63h0M392 77.5h0M370 69.5h0" stroke="#FF1010" stroke-width="1.75" stroke-linecap="round"/>
<path d="M376 56.5h0M360 53h0M360 82h0M352 41h0M356 75h0M368 60h0M362 67h0M372 56.5h0M370 43.5h0M362 60h0M354 47h0M362 73h0M346 61h0M360 80.5h0M362 64h0" stroke="#1010FF" stroke-width="1.75" stroke-linecap="round"/>
<path d="M338 45.5h0M370 53h0M354 49h0M356 61.5h0M366 50.5h0M350 57h0M336 62h0M344 47h0M352 61.5h0M352 72.5h0M378 63h0M352 71h0M358 58h0M390 85h0M356 85.5h0M346 53h0M358 70h0M364 56.5h0M350 51.5h0M354 90.5h0" stroke="#FF1010" stroke-width="1.75" stroke-linecap="round"/>
<path d="M362 48.5h0M372 54.5h0M342 60.5h0M352 65h0M356 65h0M364 57h0M354 80h0M402 79.5h0M454 52.5h0M374 56h0M368 44.5h0M366 62.5h0M372 58.5h0M350 67h0M360 68h0M374 70.5h0" stroke="#1010FF" stroke-width="1.75" stroke-linecap="round"/>
<path d="M352 60.5h0M356 73.5h0M350 66h0M432 55.5h0M386 61.5h0M342 73.5h0M362 63.5h0M354 55.5h0M360 57.5h0M356 49.5h0M366 48h0M360 68.5h0M364 74h0M360 61h0M352 61.5h0M362 45h0M364 61h0M356 84.5h0M358 65h0M368 58h0" stroke="#FF1010" stroke-width="1.75" stroke-linecap="round"/>
<path d="M368 73.5h0M364 40h0M382 60.5h0M374 53h0M338 68.5h0M348 60.5h0M350 78.5h0M354 61h0M360 87h0M354 47h0M374 63.5h0M368 38.5h0M360 62h0M360 55.5h0M362 63h0" stroke="#1010FF" stroke-width="1.75" stroke-linecap="round"/>
<path d="M354 71.5h0M350 72h0M356 77h0M358 67.5h0M358 73.5h0M354 53.5h0M358 72h0M354 57h0M358 55.5h0M350 55h0M356 55h0M442 79h0M390 34h0M388 56h0M356 76.5h0M364 75h0M348 62.5h0M364 62.5h0M350 59h0M356 79.5h0" stroke="#FF1010" stroke-width="1.75" stroke-linecap="round"/>
<path d="M358 66h0M362 65h0M352 52.5h0M344 43h0M352 66.5h0M368 96h0M346 73.5h0M360 56.5h0M376 53.5h0M352 58.5h0M354 63.5h0M356 54.5h0M356 63h0M342 47.5h0M332 59.5h0M368 46h0" stroke="#1010FF" stroke-width="1.75" stroke-linecap="round"/>
<path d="M356 61.5h0M354 79.5h0M358 51h0M366 66h0M360 63.5h0M362 57.5h0M364 66.5h0M358 71h0M350 48.5h0M346 52h0M350 74h0M350 78.5h0M344 65.5h0M352 46h0M364 59.5h0M360 59.5h0M332 60.5h0M352 56.5h0M362 49h0M360 51.5h0" stroke="#FF1010" stroke-width="1.75" stroke-linecap="round"/>
<path d="M358 56.5h0M342 42.5h0M352 60.5h0M330 53h0M354 54h0M362 80h0M392 37.5h0M356 51h0M364 63h0M374 41.5h0M372 46.5h0M356 56.5h0M362 27.5h0M358 63h0M350 56.5h0" stroke="#1010FF" stroke-width="1.75" stroke-linecap="round"/>
<path d="M362 54h0M376 80h0M374 68.5h0M352 61.5h0M360 57.5h0M386 67h0M350 62.5h0M364 78h0M358 53.5h0M344 61.5h0M384 76h0M376 57h0M348 70h0M360 61.5h0M364 69.5h0M374 53.5h0M364 62.5h0M358 64.5h0M360 59h0M346 62h0" stroke="#FF1010" stroke-width="1.75" stroke-linecap="round"/>
<path d="M358 59.5h0M368 52.5h0M368 57h0M356 56h0M356 54h0M340 68h0M360 59h0M352 54.5h0M368 68h0M346 45h0M370 53.5h0M346 49h0M378 44h0M348 66h0M380 40.5h0M348 45.5h0" stroke="#1010FF" stroke-width="1.75" stroke-linecap="round"/>
<polygon points="320.0,63.9 323.2,63.8 326.4,63.7 329.6,63.6 332.8,63.5 336.0,63.4 339.2,63.3 342.4,63.2 345.6,63.0 348.8,62.9 352.1,62.7 355.3,62.6 358.5,62.4 361.7,62.1 364.9,61.9 368.1,61.7 371.3,61.4 374.5,61.2 377.7,60.9 380.9,60.6 384.1,60.3 387.3,60.0 390.5,59.7 393.7,59.4 396.9,59.1 400.1,58.8 403.3,58.5 406.5,58.2 409.7,57.9 412.9,57.6 416.2,57.2 419.4,56.9 422.6,56.6 425.8,56.3 429.0,56.0 432.2,55.7 435.4,55.4 438.6,55.0 441.8,54.7 445.0,54.4 445.0,61.6 441.8,61.7 438.6,61.7 435.4,61.8 432.2,61.9 429.0,62.0 425.8,62.0 422.6,62.1 419.4,62.2 416.2,62.3 412.9,62.3 409.7,62.4 406.5,62.5 403.3,62.6 400.1,62.7 396.9,62.7 393.7,62.8 390.5,62.9 387.3,63.0 384.1,63.1 380.9,63.2 377.7,63.3 374.5,63.4 371.3,63.5 368.1,63.7 364.9,63.8 361.7,64.0 358.5,64.2 355.3,64.4 352.1,64.6 348.8,64.8 345.6,65.0 342.4,65.3 339.2,65.6 336.0,65.9 332.8,66.1 329.6,66.4 326.4,66.7 323.2,67.0 320.0,67.3" fill="#999" fill-opacity="0.4"/>
<polygon points="314.5,62.0 318.3,62.0 322.0,62.1 325.8,62.2 329.5,62.2 333.3,62.2 337.0,62.3 340.8,62.3 344.6,62.3 348.3,62.3 352.1,62.2 355.8,62.1 359.6,62.0 363.3,61.8 367.1,61.5 370.8,61.3 374.6,61.0 378.4,60.7 382.1,60.4 385.9,60.1 389.6,59.8 393.4,59.4 397.1,59.1 400.9,58.8 404.7,58.5 408.4,58.1 412.2,57.8 415.9,57.5 419.7,57.1 423.4,56.8 427.2,56.5 430.9,56.1 434.7,55.8 438.5,55.4 442.2,55.1 446.0,54.8 449.7,54.4 453.5,54.1 457.2,53.7 461.0,53.4 461.0,65.0 457.2,64.9 453.5,64.9 449.7,64.8 446.0,64.7 442.2,64.7 438.5,64.6 434.7,64.5 430.9,64.5 427.2,64.4 423.4,64.3 419.7,64.3 415.9,64.2 412.2,64.1 408.4,64.1 404.7,64.0 400.9,64.0 397.1,63.9 393.4,63.8 389.6,63.8 385.9,63.7 382.1,63.7 378.4,63.7 374.6,63.6 370.8,63.6 367.1,63.7 363.3,63.7 359.6,63.8 355.8,63.9 352.1,64.1 348.3,64.3 344.6,64.5 340.8,64.8 337.0,65.1 333.3,65.4 329.5,65.7 325.8,66.0 322.0,66.4 318.3,66.7 314.5,67.0" fill="#999" fill-opacity="0.4"/>
<line x1="320" y1="65.6" x2="445" y2="58.0" stroke="#E8302A" stroke-width="1.0"/>
<line x1="314.5" y1="64.5" x2="461" y2="59.2" stroke="#3030E8" stroke-width="1.0"/>
</g>
<line x1="298.1" y1="125.7" x2="298.1" y2="127.3" stroke="#555" stroke-width="0.45"/>
<text x="298.1" y="132.9" font-size="4.8" fill="#4a4a4a" text-anchor="middle">0.5</text>
<line x1="345.0" y1="125.7" x2="345.0" y2="127.3" stroke="#555" stroke-width="0.45"/>
<text x="345.0" y="132.9" font-size="4.8" fill="#4a4a4a" text-anchor="middle">0.7</text>
<line x1="391.90000000000003" y1="125.7" x2="391.90000000000003" y2="127.3" stroke="#555" stroke-width="0.45"/>
<text x="391.90000000000003" y="132.9" font-size="4.8" fill="#4a4a4a" text-anchor="middle">0.9</text>
<line x1="438.80000000000007" y1="125.7" x2="438.80000000000007" y2="127.3" stroke="#555" stroke-width="0.45"/>
<text x="438.80000000000007" y="132.9" font-size="4.8" fill="#4a4a4a" text-anchor="middle">1.1</text>
<line x1="288.59999999999997" y1="17.200000000000003" x2="290.2" y2="17.200000000000003" stroke="#555" stroke-width="0.45"/>
<text x="287.7" y="18.93" font-size="4.8" fill="#4a4a4a" text-anchor="end">3</text>
<line x1="288.59999999999997" y1="53.6" x2="290.2" y2="53.6" stroke="#555" stroke-width="0.45"/>
<text x="287.7" y="55.33" font-size="4.8" fill="#4a4a4a" text-anchor="end">2</text>
<line x1="288.59999999999997" y1="90.0" x2="290.2" y2="90.0" stroke="#555" stroke-width="0.45"/>
<text x="287.7" y="91.73" font-size="4.8" fill="#4a4a4a" text-anchor="end">1</text>
<rect x="41.8" y="174.9" width="195.39999999999998" height="112.4" fill="#EBEBEB"/>
<g clip-path="url(#clipD)">
<line x1="73.25" y1="174.9" x2="73.25" y2="287.3" stroke="#f6f6f6" stroke-width="0.45"/>
<line x1="117.54999999999998" y1="174.9" x2="117.54999999999998" y2="287.3" stroke="#f6f6f6" stroke-width="0.45"/>
<line x1="161.85" y1="174.9" x2="161.85" y2="287.3" stroke="#f6f6f6" stroke-width="0.45"/>
<line x1="206.14999999999998" y1="174.9" x2="206.14999999999998" y2="287.3" stroke="#f6f6f6" stroke-width="0.45"/>
<line x1="250.45" y1="174.9" x2="250.45" y2="287.3" stroke="#f6f6f6" stroke-width="0.45"/>
<line x1="41.8" y1="171.775" x2="237.2" y2="171.775" stroke="#f6f6f6" stroke-width="0.45"/>
<line x1="41.8" y1="207.025" x2="237.2" y2="207.025" stroke="#f6f6f6" stroke-width="0.45"/>
<line x1="41.8" y1="242.275" x2="237.2" y2="242.275" stroke="#f6f6f6" stroke-width="0.45"/>
<line x1="41.8" y1="277.525" x2="237.2" y2="277.525" stroke="#f6f6f6" stroke-width="0.45"/>
<line x1="51.1" y1="174.9" x2="51.1" y2="287.3" stroke="#fafafa" stroke-width="0.85"/>
<line x1="95.4" y1="174.9" x2="95.4" y2="287.3" stroke="#fafafa" stroke-width="0.85"/>
<line x1="139.7" y1="174.9" x2="139.7" y2="287.3" stroke="#fafafa" stroke-width="0.85"/>
<line x1="183.99999999999997" y1="174.9" x2="183.99999999999997" y2="287.3" stroke="#fafafa" stroke-width="0.85"/>
<line x1="228.29999999999998" y1="174.9" x2="228.29999999999998" y2="287.3" stroke="#fafafa" stroke-width="0.85"/>
<line x1="41.8" y1="189.4" x2="237.2" y2="189.4" stroke="#fafafa" stroke-width="0.85"/>
<line x1="41.8" y1="224.65" x2="237.2" y2="224.65" stroke="#fafafa" stroke-width="0.85"/>
<line x1="41.8" y1="259.9" x2="237.2" y2="259.9" stroke="#fafafa" stroke-width="0.85"/>
<path d="M82 257.5h0M86 225h0M90 222.5h0M90 216.5h0M82 222.5h0M94 232h0M86 233.5h0M92 254.5h0M70 218.5h0M90 241h0M88 225.5h0M86 238h0M84 241.5h0M86 225h0M84 216h0M92 248h0" stroke="#FF1010" stroke-width="1.75" stroke-linecap="round"/>
<path d="M146 194.5h0M90 225.5h0M84 228.5h0M100 235.5h0M128 183h0M76 217h0M84 226h0M92 219h0M90 223h0M86 213.5h0M80 226h0M86 232h0M114 203h0" stroke="#1010FF" stroke-width="1.75" stroke-linecap="round"/>
<path d="M88 217h0M96 197.5h0M116 236.5h0M92 226h0M94 220.5h0M102 217.5h0M82 251h0M94 243h0M84 222h0M92 212h0M98 233.5h0M84 236.5h0M80 231.5h0M94 234h0M90 226h0M100 226h0M80 247.5h0" stroke="#FF1010" stroke-width="1.75" stroke-linecap="round"/>
<path d="M82 227h0M76 225h0M88 212h0M86 206h0M82 228h0M86 223.5h0M90 218.5h0M94 232h0M88 234h0M90 228.5h0M86 221h0M90 220.5h0M76 229.5h0" stroke="#1010FF" stroke-width="1.75" stroke-linecap="round"/>
<path d="M90 217.5h0M164 220h0M74 231.5h0M66 205h0M74 223h0M96 216h0M80 238.5h0M90 223.5h0M92 221h0M146 229h0M90 219h0M92 219.5h0M82 228.5h0M94 217.5h0M88 253h0M82 237.5h0M86 265h0" stroke="#FF1010" stroke-width="1.75" stroke-linecap="round"/>
<path d="M96 219h0M82 232h0M112 190.5h0M86 209h0M88 237h0M72 222h0M86 230h0M116 204.5h0M90 231h0M104 229.5h0M100 212.5h0M96 214h0M82 227h0M98 207.5h0" stroke="#1010FF" stroke-width="1.75" stroke-linecap="round"/>
<path d="M80 214.5h0M84 245.5h0M84 233.5h0M94 212h0M88 222.5h0M88 222h0M108 217.5h0M96 240.5h0M86 241h0M166 204.5h0M94 224h0M94 240.5h0M82 211h0M86 261.5h0M96 230.5h0M104 227h0M86 225h0" stroke="#FF1010" stroke-width="1.75" stroke-linecap="round"/>
<path d="M108 213h0M86 211.5h0M88 209.5h0M88 216h0M96 203.5h0M100 225h0M96 233.5h0M94 214.5h0M88 212.5h0M100 219.5h0M88 237.5h0M86 225h0M86 207h0" stroke="#1010FF" stroke-width="1.75" stroke-linecap="round"/>
<path d="M92 197h0M76 215.5h0M94 204.5h0M96 232.5h0M78 220h0M84 199h0M90 218h0M100 218.5h0M100 258h0M90 216h0M78 219.5h0M92 252.5h0M94 219.5h0M80 226.5h0M94 232.5h0M96 211.5h0M114 255.5h0" stroke="#FF1010" stroke-width="1.75" stroke-linecap="round"/>
<path d="M82 243.5h0M94 223h0M90 202h0M80 218.5h0M82 226.5h0M70 219.5h0M94 235h0M88 228.5h0M84 238h0M104 207h0M88 205h0M108 242h0M90 210h0M170 194.5h0" stroke="#1010FF" stroke-width="1.75" stroke-linecap="round"/>
<path d="M90 230.5h0M82 221h0M84 215h0M110 198h0M78 204.5h0M94 229h0M90 201.5h0M84 249h0M98 217.5h0M86 238h0M170 213h0M110 209h0M88 222h0M80 227.5h0M82 241h0M164 191.5h0M106 215h0" stroke="#FF1010" stroke-width="1.75" stroke-linecap="round"/>
<path d="M80 195h0M88 232h0M92 238.5h0M88 232.5h0M94 218.5h0M146 188.5h0M88 208.5h0M188 183.5h0M134 216.5h0M112 233h0M82 229.5h0M80 208.5h0M102 220h0" stroke="#1010FF" stroke-width="1.75" stroke-linecap="round"/>
<path d="M98 187.5h0M90 220h0M114 212.5h0M142 212.5h0M86 220h0M104 224.5h0M82 222h0M86 223.5h0M80 224.5h0M92 251.5h0M112 222.5h0M92 216.5h0M74 224.5h0M90 227h0M94 253h0M86 217h0M94 214.5h0" stroke="#FF1010" stroke-width="1.75" stroke-linecap="round"/>
<path d="M84 222h0M84 210.5h0M98 216h0M114 198.5h0M144 185h0M86 219h0M90 222.5h0M94 226h0M86 222h0M86 224h0M78 218h0M148 197.5h0M160 184h0M110 220h0" stroke="#1010FF" stroke-width="1.75" stroke-linecap="round"/>
<path d="M88 225h0M80 231.5h0M118 217.5h0M84 204h0M88 221h0M78 224.5h0M86 265h0M78 222h0M92 227h0M86 223.5h0M88 253h0M100 238.5h0M102 230.5h0M84 207.5h0M96 231h0M102 208.5h0M90 237h0" stroke="#FF1010" stroke-width="1.75" stroke-linecap="round"/>
<path d="M96 210.5h0M82 213.5h0M88 212h0M80 229.5h0M86 218h0M112 181h0M82 219.5h0M116 207.5h0M80 206.5h0M98 211.5h0M84 222.5h0M86 215h0M86 217h0" stroke="#1010FF" stroke-width="1.75" stroke-linecap="round"/>
<path d="M90 225.5h0M86 244.5h0M82 224.5h0M80 226.5h0M84 225h0M86 222h0M134 216h0M160 219h0M96 245.5h0M90 218h0M92 242.5h0M80 240.5h0M72 220h0M80 229.5h0M84 247.5h0M82 229.5h0M100 209.5h0" stroke="#FF1010" stroke-width="1.75" stroke-linecap="round"/>
<path d="M116 203h0M80 235h0M82 214h0M92 210.5h0M92 210.5h0M88 216.5h0M148 193.5h0M126 185.5h0M120 221h0M94 220h0M78 210h0M104 193h0M78 219h0M118 206.5h0" stroke="#1010FF" stroke-width="1.75" stroke-linecap="round"/>
<path d="M128 235h0M94 212h0M96 208h0M78 214.5h0M90 251.5h0M98 233.5h0M90 243h0M76 223h0M70 221.5h0M84 227.5h0M106 244h0M88 203h0M78 224h0M152 211h0M96 225h0M80 242.5h0M80 223h0" stroke="#FF1010" stroke-width="1.75" stroke-linecap="round"/>
<path d="M86 206.5h0M86 250.5h0M92 223h0M92 238h0M72 217h0M94 240h0M80 239h0M92 238h0M96 211h0M116 217.5h0M86 215.5h0M92 222.5h0M90 222.5h0" stroke="#1010FF" stroke-width="1.75" stroke-linecap="round"/>
<path d="M86 229h0M82 224.5h0M82 211.5h0M82 240h0M86 222.5h0M90 237h0M102 226h0M78 244.5h0M80 201.5h0M88 219.5h0M60 243h0M82 255.5h0M78 246.5h0M88 224h0M80 253h0M190 186h0M88 269h0" stroke="#FF1010" stroke-width="1.75" stroke-linecap="round"/>
<path d="M134 196h0M82 199h0M82 209h0M92 215.5h0M86 219.5h0M94 224h0M86 209h0M86 214.5h0M92 226.5h0M210 190h0M80 220.5h0M92 215.5h0M104 226h0" stroke="#1010FF" stroke-width="1.75" stroke-linecap="round"/>
<path d="M112 214h0M98 246.5h0M86 230.5h0M94 227.5h0M62 221h0M86 225h0M80 223h0M84 218h0M78 246.5h0M100 225.5h0M82 249.5h0M96 240.5h0M90 242.5h0M92 216h0M94 245.5h0M86 246.5h0M86 238h0" stroke="#FF1010" stroke-width="1.75" stroke-linecap="round"/>
<path d="M94 218h0M86 237h0M90 239.5h0M102 234.5h0M94 200h0M96 262h0M80 232.5h0M104 223.5h0M80 233h0M86 222h0M88 210.5h0M98 210h0M74 216.5h0M106 219.5h0" stroke="#1010FF" stroke-width="1.75" stroke-linecap="round"/>
<path d="M92 220.5h0M84 224.5h0M88 217.5h0M80 237h0M108 214.5h0M88 235.5h0M96 264h0M94 242h0M90 222h0M88 236h0M90 229h0M86 222.5h0M76 245h0M120 219.5h0M90 228h0M100 237h0M84 237h0" stroke="#FF1010" stroke-width="1.75" stroke-linecap="round"/>
<path d="M84 214.5h0M92 210.5h0M92 209h0M92 214h0M72 231h0M92 222h0M96 226.5h0M96 217h0M88 231.5h0M88 218.5h0M90 200.5h0M92 210.5h0M90 206.5h0" stroke="#1010FF" stroke-width="1.75" stroke-linecap="round"/>
<path d="M88 244h0M88 241h0M142 226.5h0M80 225.5h0M74 230.5h0M84 213.5h0M116 216.5h0M90 211.5h0M86 239h0M94 226h0M90 249h0M96 225.5h0M84 223.5h0M90 221h0M94 234h0M86 245.5h0M88 230h0" stroke="#FF1010" stroke-width="1.75" stroke-linecap="round"/>
<path d="M70 198h0M86 230h0M76 207h0M92 219h0M82 236h0M94 228h0M102 220.5h0M96 213.5h0M64 230h0M90 224.5h0M78 207h0M100 245h0M100 220h0M188 218.5h0" stroke="#1010FF" stroke-width="1.75" stroke-linecap="round"/>
<path d="M90 224h0M120 209.5h0M80 245.5h0M96 207h0M80 219.5h0M90 221h0M88 223.5h0M80 215h0M78 234.5h0M98 215.5h0M86 243h0M82 236h0M86 255.5h0M94 240.5h0M84 234h0M82 248h0M88 218.5h0" stroke="#FF1010" stroke-width="1.75" stroke-linecap="round"/>
<path d="M106 180.5h0M96 207.5h0M72 220.5h0M88 219h0M88 207.5h0M108 220h0M78 243.5h0M70 221h0M80 254h0M80 225.5h0M92 223h0M96 226.5h0M86 212.5h0" stroke="#1010FF" stroke-width="1.75" stroke-linecap="round"/>
<path d="M96 219.5h0M104 234h0M90 223h0M90 250h0M78 225h0M108 202h0M76 235h0M106 214h0M92 233h0M108 195.5h0M88 241.5h0M86 270.5h0M98 204.5h0M76 245h0M102 215h0M82 233.5h0M80 209.5h0" stroke="#FF1010" stroke-width="1.75" stroke-linecap="round"/>
<path d="M90 201h0M108 203.5h0M84 218.5h0M84 207h0M140 189.5h0M94 241h0M116 241h0M90 233h0M84 235.5h0M184 213h0M108 233.5h0M98 190h0M80 246.5h0M108 226.5h0" stroke="#1010FF" stroke-width="1.75" stroke-linecap="round"/>
<path d="M98 212.5h0M76 255h0M94 234.5h0M92 220h0M80 231.5h0M80 222.5h0M72 244h0M72 215h0M86 241.5h0M84 215h0M122 212.5h0M102 232.5h0M86 222.5h0M90 224.5h0M110 228h0M92 227h0M96 242h0" stroke="#FF1010" stroke-width="1.75" stroke-linecap="round"/>
<path d="M104 226.5h0M86 213h0M92 214h0M84 236.5h0M80 212.5h0M92 224h0M92 203.5h0M108 209h0M82 218h0M84 223.5h0M88 214h0M88 216.5h0M124 206.5h0" stroke="#1010FF" stroke-width="1.75" stroke-linecap="round"/>
<path d="M82 215.5h0M90 244.5h0M88 213.5h0M104 227.5h0M88 209.5h0M84 235.5h0M86 220h0M92 218h0M94 232h0M98 203.5h0M84 230h0M90 223h0M86 221.5h0M82 201h0M122 225.5h0M80 235h0M90 217.5h0" stroke="#FF1010" stroke-width="1.75" stroke-linecap="round"/>
<path d="M84 247h0M76 203.5h0M90 224h0M92 214h0M76 217h0M90 207.5h0M86 222.5h0M82 232.5h0M96 213h0M86 206h0M76 215.5h0M90 217h0M82 216.5h0M96 227h0" stroke="#1010FF" stroke-width="1.75" stroke-linecap="round"/>
<path d="M96 271h0M88 242.5h0M84 275h0M96 228h0M90 225.5h0M80 223h0M84 221h0M104 270h0M82 241.5h0M88 225h0M72 229h0M92 216h0M116 217h0M94 209.5h0M80 214.5h0M86 220.5h0M90 240.5h0" stroke="#FF1010" stroke-width="1.75" stroke-linecap="round"/>
<path d="M92 228h0M100 219h0M84 211h0M96 218h0M90 210h0M80 225.5h0M90 196h0M90 217.5h0M88 218.5h0M90 176.5h0M86 222h0M86 213h0M90 215.5h0" stroke="#1010FF" stroke-width="1.75" stroke-linecap="round"/>
<path d="M92 233.5h0M80 246.5h0M74 227h0M92 231.5h0M82 236.5h0M84 224h0M80 225.5h0M96 215h0M90 204h0M90 215h0M94 222.5h0M74 240.5h0M100 226.5h0M86 242h0M196 200h0M102 218.5h0M116 239h0" stroke="#FF1010" stroke-width="1.75" stroke-linecap="round"/>
<path d="M96 208h0M76 215h0M92 219.5h0M82 232.5h0M96 218.5h0M90 204.5h0M64 202h0M116 199.5h0M92 227.5h0M104 209.5h0M102 224h0M124 193.5h0M92 219h0M88 225h0" stroke="#1010FF" stroke-width="1.75" stroke-linecap="round"/>
<path d="M86 238.5h0M82 227h0M86 240.5h0M104 213.5h0M96 213.5h0M86 208.5h0M88 219h0M96 214h0M110 238h0M132 227h0M88 246h0M96 221h0M110 226.5h0M86 226h0M76 231h0M88 244.5h0M84 235.5h0" stroke="#FF1010" stroke-width="1.75" stroke-linecap="round"/>
<path d="M90 212.5h0M120 226.5h0M94 231h0M96 232.5h0M112 206h0M92 222.5h0M100 195h0M112 214.5h0M114 231h0M98 230.5h0M90 214.5h0M94 217.5h0M74 216h0" stroke="#1010FF" stroke-width="1.75" stroke-linecap="round"/>
<path d="M76 225h0M90 232.5h0M92 232h0M66 188.5h0M92 214.5h0M82 246.5h0M88 221.5h0M90 214.5h0M98 246.5h0M96 219.5h0M90 236.5h0M86 244h0M78 228.5h0M84 225.5h0M84 223h0M100 242.5h0M86 224.5h0" stroke="#FF1010" stroke-width="1.75" stroke-linecap="round"/>
<path d="M88 234h0M110 222.5h0M94 208.5h0M92 228.5h0M92 228h0M80 204.5h0M138 207.5h0M86 227.5h0M74 204h0M96 233h0M138 217.5h0M90 206h0M86 231h0" stroke="#1010FF" stroke-width="1.75" stroke-linecap="round"/>
<path d="M214 200.5h0M86 210.5h0M86 226.5h0M92 219.5h0M88 224h0M80 224.5h0M92 226h0M86 225.5h0M88 209.5h0M142 217.5h0M74 232h0M94 221.5h0M84 257.5h0M76 235.5h0M86 222.5h0M86 220h0M80 216.5h0" stroke="#FF1010" stroke-width="1.75" stroke-linecap="round"/>
<path d="M112 229h0M88 219h0M98 215.5h0M90 215h0M104 270.5h0M94 219.5h0M90 189.5h0M102 224.5h0M94 225h0M98 229h0M94 238h0M86 222h0M84 211h0M84 215.5h0" stroke="#1010FF" stroke-width="1.75" stroke-linecap="round"/>
<path d="M82 246.5h0M82 224h0M90 242.5h0M126 228h0M88 252h0M198 204.5h0M94 217.5h0M80 228.5h0M78 212h0M88 240.5h0M82 222.5h0M134 230.5h0M76 224h0M84 251.5h0M92 242.5h0M98 261.5h0M96 218.5h0" stroke="#FF1010" stroke-width="1.75" stroke-linecap="round"/>
<path d="M98 206.5h0M74 207.5h0M86 214h0M134 198h0M128 213h0M98 211h0M88 218h0M98 209h0M90 227.5h0M82 212h0M96 233.5h0M106 216.5h0M90 205.5h0" stroke="#1010FF" stroke-width="1.75" stroke-linecap="round"/>
<path d="M88 228.5h0M84 247h0M86 241.5h0M90 230h0M80 232h0M92 225h0M100 224h0M74 222h0M82 216h0M106 229.5h0M84 233.5h0M80 234.5h0M76 246h0M100 210.5h0M94 226h0M142 228h0M92 208.5h0" stroke="#FF1010" stroke-width="1.75" stroke-linecap="round"/>
<path d="M88 236h0M132 204.5h0M98 206.5h0M90 218.5h0M116 213.5h0M94 215.5h0M90 211h0M96 209h0M84 217h0M88 212h0M96 213h0M98 240.5h0M92 222.5h0M86 225.5h0" stroke="#1010FF" stroke-width="1.75" stroke-linecap="round"/>
<path d="M86 252.5h0M142 211h0M82 240.5h0M96 216h0M96 218h0M92 249.5h0M80 256.5h0M86 230.5h0M84 232h0M84 210h0M92 231.5h0M88 211h0M78 235h0M88 230.5h0M96 255.5h0M80 237.5h0M86 224.5h0" stroke="#FF1010" stroke-width="1.75" stroke-linecap="round"/>
<path d="M68 230.5h0M86 234h0M88 213.5h0M106 209h0M92 240h0M96 236.5h0M96 206h0M98 229h0M86 211.5h0M146 223h0M84 222h0M108 212h0M98 267h0" stroke="#1010FF" stroke-width="1.75" stroke-linecap="round"/>
<path d="M92 218h0M88 207h0M92 238h0M100 227.5h0M86 214.5h0M92 226.5h0M90 245h0M90 222h0M98 218h0M92 224.5h0M120 229.5h0M90 245h0M92 239h0M86 243.5h0M92 230h0M122 208h0M78 219h0" stroke="#FF1010" stroke-width="1.75" stroke-linecap="round"/>
<path d="M94 228.5h0M136 195.5h0M92 231.5h0M110 201.5h0M90 225.5h0M78 209.5h0M98 215.5h0M88 216h0M88 222h0M110 212.5h0M88 220.5h0M104 210.5h0M86 195.5h0M84 223h0" stroke="#1010FF" stroke-width="1.75" stroke-linecap="round"/>
<path d="M94 215.5h0M96 213.5h0M100 240.5h0M84 249h0M88 221h0M76 237.5h0M94 239.5h0M100 227h0M88 226h0M82 251h0M110 223h0M92 226.5h0M84 241h0M84 223.5h0M82 229.5h0M84 217h0M114 232h0" stroke="#FF1010" stroke-width="1.75" stroke-linecap="round"/>
<path d="M86 226.5h0M84 217.5h0M90 218.5h0M86 205h0M78 224h0M82 203.5h0M88 220.5h0M90 223h0M86 206.5h0M94 237.5h0M118 216.5h0M102 216h0M88 215.5h0" stroke="#1010FF" stroke-width="1.75" stroke-linecap="round"/>
<path d="M194 204h0M78 218h0M82 221.5h0M92 211.5h0M86 225h0M82 219h0M118 216h0M100 222.5h0M92 240.5h0M108 216.5h0M86 238.5h0M80 226.5h0M78 219.5h0M86 224h0M94 232.5h0M106 210h0M100 211.5h0" stroke="#FF1010" stroke-width="1.75" stroke-linecap="round"/>
<path d="M96 231h0M84 229h0M86 214.5h0M88 236h0M84 217h0M114 226.5h0M94 231.5h0M78 239.5h0M88 233.5h0M88 198h0M102 218h0M84 225.5h0M102 222h0M116 236h0" stroke="#1010FF" stroke-width="1.75" stroke-linecap="round"/>
<path d="M98 243.5h0M90 243.5h0M100 210.5h0M84 229.5h0M98 205.5h0M86 224.5h0M70 216h0M88 227h0M84 233.5h0M82 244h0M86 222.5h0M86 241h0M84 226.5h0M86 234h0M80 219.5h0M90 232.5h0M88 244.5h0" stroke="#FF1010" stroke-width="1.75" stroke-linecap="round"/>
<path d="M116 181.5h0M90 192h0M76 224h0M90 218.5h0M86 203.5h0M98 192h0M84 217h0M90 215.5h0M96 212.5h0M90 235.5h0M90 214.5h0M86 228.5h0M86 216.5h0" stroke="#1010FF" stroke-width="1.75" stroke-linecap="round"/>
<path d="M96 238h0M86 217.5h0M86 229h0M86 224.5h0M156 225.5h0M84 263h0M102 188.5h0M80 245.5h0M86 229.5h0M86 222.5h0M86 210.5h0M148 213.5h0M100 253h0M90 224h0M100 223h0M84 260.5h0M82 242h0" stroke="#FF1010" stroke-width="1.75" stroke-linecap="round"/>
<path d="M110 205h0M84 232.5h0M82 243h0M116 227h0M88 216h0M88 233h0M86 224.5h0M84 223.5h0M92 211h0M86 213.5h0M190 196h0M92 229h0M100 205h0" stroke="#1010FF" stroke-width="1.75" stroke-linecap="round"/>
<path d="M80 227.5h0M90 220h0M82 230.5h0M76 221.5h0M94 216h0M150 242h0M84 222h0M102 215.5h0M94 238h0M84 228.5h0M82 219h0M106 228.5h0M86 236.5h0M98 218h0M80 218h0M98 236.5h0M86 240h0" stroke="#FF1010" stroke-width="1.75" stroke-linecap="round"/>
<path d="M116 237h0M88 232h0M90 223.5h0M82 229h0M90 217h0M90 217h0M80 249h0M102 215.5h0M82 218h0M98 209h0M86 227.5h0M86 226.5h0M74 217.5h0M88 226h0" stroke="#1010FF" stroke-width="1.75" stroke-linecap="round"/>
<path d="M88 209.5h0M120 194.5h0M92 226.5h0M78 234.5h0M86 232.5h0M80 221h0M90 244.5h0M90 244.5h0M92 213h0M100 235h0M110 227h0M154 211.5h0M86 222.5h0M98 222.5h0M80 223.5h0M84 223h0M94 256h0" stroke="#FF1010" stroke-width="1.75" stroke-linecap="round"/>
<path d="M84 220.5h0M94 229.5h0M78 237.5h0M76 223.5h0M94 214.5h0M80 241h0M90 213h0M88 219.5h0M100 236.5h0M100 192h0M92 231.5h0M132 207h0M98 231.5h0" stroke="#1010FF" stroke-width="1.75" stroke-linecap="round"/>
<path d="M76 223.5h0M94 237.5h0M68 232h0M90 244.5h0M66 214h0M88 218h0M90 259.5h0M88 221h0M80 218h0M80 244.5h0M100 214.5h0M80 252h0M82 214.5h0M86 218h0M110 201h0M98 216.5h0M94 219h0" stroke="#FF1010" stroke-width="1.75" stroke-linecap="round"/>
<path d="M102 221.5h0M90 218.5h0M90 247.5h0M92 210.5h0M88 242.5h0M86 211h0M96 235.5h0M94 230.5h0M104 220h0M86 217h0M88 217.5h0M90 231h0M76 215.5h0M84 221.5h0" stroke="#1010FF" stroke-width="1.75" stroke-linecap="round"/>
<path d="M102 179h0M82 219h0M94 197.5h0M70 206h0M134 235h0M94 192.5h0M102 224.5h0M90 220.5h0M84 232.5h0M86 230.5h0M92 229.5h0M88 224.5h0M92 217h0M88 212.5h0M96 236h0M84 231.5h0M102 222h0" stroke="#FF1010" stroke-width="1.75" stroke-linecap="round"/>
<path d="M94 219.5h0M84 226h0M86 225h0M118 218h0M72 235h0M76 224.5h0M86 201.5h0M92 209.5h0M68 212h0M92 218.5h0M116 205.5h0M86 239.5h0M86 215h0" stroke="#1010FF" stroke-width="1.75" stroke-linecap="round"/>
<path d="M82 227.5h0M86 232h0M94 226h0M124 213.5h0M102 224.5h0M106 232h0M82 217h0M98 231.5h0M88 225h0M94 233.5h0M78 231h0M96 227h0M80 234h0M84 222.5h0M94 223.5h0M96 213.5h0M78 222.5h0" stroke="#FF1010" stroke-width="1.75" stroke-linecap="round"/>
<path d="M90 231h0M76 216h0M110 222h0M90 218h0M88 223.5h0M102 204h0M96 235h0M98 206.5h0M96 221.5h0M92 215.5h0M106 218h0M90 230h0M88 229.5h0M88 228h0" stroke="#1010FF" stroke-width="1.75" stroke-linecap="round"/>
<path d="M82 226h0M86 215h0M92 226.5h0M80 229h0M86 221h0M138 203h0M86 242h0M88 244h0M96 240h0M96 237.5h0M92 216.5h0M86 237.5h0M82 195.5h0M152 194h0M98 244h0M98 227.5h0M96 240.5h0" stroke="#FF1010" stroke-width="1.75" stroke-linecap="round"/>
<path d="M88 230h0M114 198h0M94 223h0M74 228.5h0M92 232h0M94 215h0M82 226h0M88 243h0M94 212.5h0M104 211h0M86 208.5h0M100 196.5h0M78 222h0" stroke="#1010FF" stroke-width="1.75" stroke-linecap="round"/>
<path d="M80 225h0M100 246.5h0M98 212h0M94 225h0M90 222h0M98 239h0M60 235.5h0M88 220.5h0M82 241h0M80 226.5h0M84 240h0M102 210h0M90 220.5h0M94 227.5h0M94 216h0M96 215h0M92 227h0" stroke="#FF1010" stroke-width="1.75" stroke-linecap="round"/>
<path d="M84 198h0M84 213h0M98 243h0M100 219h0M90 218.5h0M98 219.5h0M106 209h0M96 238h0M88 218.5h0M80 217.5h0M82 210h0M98 224h0M88 214.5h0M110 210.5h0" stroke="#1010FF" stroke-width="1.75" stroke-linecap="round"/>
<path d="M96 248.5h0M82 219.5h0M88 209.5h0M92 236h0M82 211.5h0M86 203.5h0M86 235.5h0M88 239.5h0M78 224.5h0M88 242h0M84 233h0M74 212.5h0M74 225.5h0M118 219.5h0M92 219.5h0M100 223h0M94 222.5h0" stroke="#FF1010" stroke-width="1.75" stroke-linecap="round"/>
<path d="M76 216h0M110 216.5h0M76 202.5h0M96 232.5h0M108 226.5h0M80 228.5h0M90 213h0M114 229.5h0M192 203.5h0M108 221.5h0M76 221.5h0M86 232h0M88 233.5h0" stroke="#1010FF" stroke-width="1.75" stroke-linecap="round"/>
<path d="M78 224h0M84 249h0M114 260h0M84 233h0M90 220h0M86 228.5h0M86 231h0M90 214h0M88 222.5h0M84 223.5h0M86 249.5h0M104 227h0M204 195.5h0M100 233.5h0M82 219.5h0M80 268h0M88 247.5h0" stroke="#FF1010" stroke-width="1.75" stroke-linecap="round"/>
<path d="M88 231h0M96 202.5h0M86 217.5h0M118 231.5h0M110 181.5h0M102 218h0M92 236h0M82 213h0M96 234h0M94 234.5h0M120 192h0M124 191.5h0M90 215.5h0M160 179h0" stroke="#1010FF" stroke-width="1.75" stroke-linecap="round"/>
<path d="M70 282.5h0M71.5 282.5h0M73 282.5h0M74.5 282.5h0M76 282.5h0M77.5 282.5h0M79 282.5h0M80.5 282.5h0M82 282.5h0M83.5 282.5h0M85 282.5h0M86.5 282.5h0M88 282.5h0M89.5 282.5h0M91 282.5h0M92.5 282.5h0M61.5 282.5h0M104 282.5h0M69 269.5h0M65 273h0M82.5 271h0M82 273.5h0M82.5 276.5h0M86.5 273.5h0M80 277.5h0M86.5 277.5h0M63.5 278.5h0M68 265h0" stroke="#FF1010" stroke-width="1.75" stroke-linecap="round"/>
<path d="M72.5 282.5h0M74 282.5h0M76.5 282.5h0M84 282.5h0M89 282.5h0M90.5 282.5h0M96.5 282.5h0" stroke="#1010FF" stroke-width="1.75" stroke-linecap="round"/>
<polygon points="56.5,233.4 59.7,232.7 62.9,232.1 66.0,231.4 69.2,230.7 72.4,230.1 75.6,229.4 78.7,228.7 81.9,228.0 85.1,227.2 88.3,226.5 91.4,225.7 94.6,224.9 97.8,224.0 101.0,223.2 104.2,222.3 107.3,221.4 110.5,220.6 113.7,219.7 116.9,218.8 120.0,217.8 123.2,216.9 126.4,216.0 129.6,215.1 132.7,214.2 135.9,213.3 139.1,212.3 142.3,211.4 145.5,210.5 148.6,209.5 151.8,208.6 155.0,207.7 158.2,206.7 161.3,205.8 164.5,204.9 167.7,203.9 170.9,203.0 174.0,202.1 177.2,201.1 180.4,200.2 180.4,210.2 177.2,210.8 174.0,211.4 170.9,212.0 167.7,212.7 164.5,213.3 161.3,213.9 158.2,214.5 155.0,215.1 151.8,215.7 148.6,216.3 145.5,217.0 142.3,217.6 139.1,218.2 135.9,218.8 132.7,219.5 129.6,220.1 126.4,220.7 123.2,221.3 120.0,222.0 116.9,222.6 113.7,223.3 110.5,223.9 107.3,224.6 104.2,225.3 101.0,225.9 97.8,226.6 94.6,227.4 91.4,228.1 88.3,228.9 85.1,229.6 81.9,230.4 78.7,231.3 75.6,232.1 72.4,233.0 69.2,233.9 66.0,234.7 62.9,235.6 59.7,236.5 56.5,237.4" fill="#999" fill-opacity="0.4"/>
<polygon points="51.6,230.6 56.0,229.8 60.4,229.0 64.8,228.2 69.2,227.4 73.7,226.6 78.1,225.7 82.5,224.8 86.9,223.8 91.3,222.6 95.7,221.4 100.1,220.1 104.5,218.8 108.9,217.4 113.3,216.0 117.8,214.5 122.2,213.1 126.6,211.7 131.0,210.2 135.4,208.8 139.8,207.3 144.2,205.9 148.6,204.4 153.0,203.0 157.4,201.5 161.9,200.1 166.3,198.6 170.7,197.1 175.1,195.7 179.5,194.2 183.9,192.8 188.3,191.3 192.7,189.8 197.1,188.4 201.5,186.9 206.0,185.4 210.4,184.0 214.8,182.5 219.2,181.1 223.6,179.6 223.6,202.0 219.2,202.7 214.8,203.5 210.4,204.2 206.0,205.0 201.5,205.7 197.1,206.5 192.7,207.2 188.3,207.9 183.9,208.7 179.5,209.4 175.1,210.2 170.7,210.9 166.3,211.7 161.9,212.4 157.4,213.2 153.0,213.9 148.6,214.7 144.2,215.4 139.8,216.2 135.4,216.9 131.0,217.7 126.6,218.4 122.2,219.2 117.8,220.0 113.3,220.8 108.9,221.6 104.5,222.4 100.1,223.2 95.7,224.1 91.3,225.1 86.9,226.2 82.5,227.4 78.1,228.6 73.7,230.0 69.2,231.3 64.8,232.7 60.4,234.2 56.0,235.6 51.6,237.0" fill="#999" fill-opacity="0.4"/>
<line x1="56.5" y1="235.4" x2="180.4" y2="205.2" stroke="#E8302A" stroke-width="1.0"/>
<line x1="51.6" y1="233.8" x2="223.6" y2="190.8" stroke="#3030E8" stroke-width="1.0"/>
</g>
<line x1="51.1" y1="287.3" x2="51.1" y2="288.90000000000003" stroke="#555" stroke-width="0.45"/>
<text x="51.1" y="294.8" font-size="4.7" fill="#4a4a4a" text-anchor="middle">0.50</text>
<line x1="95.4" y1="287.3" x2="95.4" y2="288.90000000000003" stroke="#555" stroke-width="0.45"/>
<text x="95.4" y="294.8" font-size="4.7" fill="#4a4a4a" text-anchor="middle">0.75</text>
<line x1="139.7" y1="287.3" x2="139.7" y2="288.90000000000003" stroke="#555" stroke-width="0.45"/>
<text x="139.7" y="294.8" font-size="4.7" fill="#4a4a4a" text-anchor="middle">1.00</text>
<line x1="183.99999999999997" y1="287.3" x2="183.99999999999997" y2="288.90000000000003" stroke="#555" stroke-width="0.45"/>
<text x="183.99999999999997" y="294.8" font-size="4.7" fill="#4a4a4a" text-anchor="middle">1.25</text>
<line x1="228.29999999999998" y1="287.3" x2="228.29999999999998" y2="288.90000000000003" stroke="#555" stroke-width="0.45"/>
<text x="228.29999999999998" y="294.8" font-size="4.7" fill="#4a4a4a" text-anchor="middle">1.50</text>
<line x1="40.199999999999996" y1="189.4" x2="41.8" y2="189.4" stroke="#555" stroke-width="0.45"/>
<text x="39.3" y="191.09" font-size="4.7" fill="#4a4a4a" text-anchor="end">2</text>
<line x1="40.199999999999996" y1="224.65" x2="41.8" y2="224.65" stroke="#555" stroke-width="0.45"/>
<text x="39.3" y="226.34" font-size="4.7" fill="#4a4a4a" text-anchor="end">1</text>
<line x1="40.199999999999996" y1="259.9" x2="41.8" y2="259.9" stroke="#555" stroke-width="0.45"/>
<text x="39.3" y="261.59" font-size="4.7" fill="#4a4a4a" text-anchor="end">0</text>
<rect x="293.0" y="172.5" width="195.7" height="112.5" fill="#EBEBEB"/>
<g clip-path="url(#clipE)">
<line x1="325.8" y1="172.5" x2="325.8" y2="285.0" stroke="#f6f6f6" stroke-width="0.45"/>
<line x1="373.0" y1="172.5" x2="373.0" y2="285.0" stroke="#f6f6f6" stroke-width="0.45"/>
<line x1="420.2" y1="172.5" x2="420.2" y2="285.0" stroke="#f6f6f6" stroke-width="0.45"/>
<line x1="467.4" y1="172.5" x2="467.4" y2="285.0" stroke="#f6f6f6" stroke-width="0.45"/>
<line x1="293.0" y1="170.0" x2="488.7" y2="170.0" stroke="#f6f6f6" stroke-width="0.45"/>
<line x1="293.0" y1="204.8" x2="488.7" y2="204.8" stroke="#f6f6f6" stroke-width="0.45"/>
<line x1="293.0" y1="239.6" x2="488.7" y2="239.6" stroke="#f6f6f6" stroke-width="0.45"/>
<line x1="293.0" y1="274.4" x2="488.7" y2="274.4" stroke="#f6f6f6" stroke-width="0.45"/>
<line x1="302.2" y1="172.5" x2="302.2" y2="285.0" stroke="#fafafa" stroke-width="0.85"/>
<line x1="349.4" y1="172.5" x2="349.4" y2="285.0" stroke="#fafafa" stroke-width="0.85"/>
<line x1="396.6" y1="172.5" x2="396.6" y2="285.0" stroke="#fafafa" stroke-width="0.85"/>
<line x1="443.8" y1="172.5" x2="443.8" y2="285.0" stroke="#fafafa" stroke-width="0.85"/>
<line x1="293.0" y1="187.4" x2="488.7" y2="187.4" stroke="#fafafa" stroke-width="0.85"/>
<line x1="293.0" y1="222.2" x2="488.7" y2="222.2" stroke="#fafafa" stroke-width="0.85"/>
<line x1="293.0" y1="257.0" x2="488.7" y2="257.0" stroke="#fafafa" stroke-width="0.85"/>
<path d="M352 211.5h0M378 201h0M362 220h0M344 230h0M378 229h0M372 226h0M356 220h0M378 225h0M368 212h0M350 226.5h0M340 231.5h0M364 221h0M360 227h0M368 237h0M350 237h0M382 223h0M374 237.5h0M348 217h0" stroke="#FF1010" stroke-width="1.75" stroke-linecap="round"/>
<path d="M380 231.5h0M354 217.5h0M354 218.5h0M372 206h0M366 212.5h0M366 232.5h0M354 218h0M438 201.5h0M360 222h0M364 224h0M342 236.5h0M376 215.5h0M380 191.5h0M390 195.5h0" stroke="#1010FF" stroke-width="1.75" stroke-linecap="round"/>
<path d="M370 250h0M418 208h0M352 239h0M354 219h0M358 226.5h0M366 218h0M350 232h0M346 200h0M370 215.5h0M400 224h0M348 222.5h0M360 214.5h0M368 231.5h0M358 261.5h0M354 209h0M360 224h0M356 243.5h0M360 228h0M406 232.5h0" stroke="#FF1010" stroke-width="1.75" stroke-linecap="round"/>
<path d="M340 240.5h0M360 219.5h0M402 226.5h0M362 228.5h0M380 227.5h0M380 226.5h0M362 242.5h0M360 217h0M358 225.5h0M362 210.5h0M362 228h0M364 213h0M348 216h0M364 251.5h0M376 196h0" stroke="#1010FF" stroke-width="1.75" stroke-linecap="round"/>
<path d="M350 238h0M386 210.5h0M366 219.5h0M412 209h0M374 221h0M366 216h0M360 231h0M366 241.5h0M394 216h0M362 207.5h0M340 247h0M360 215.5h0M372 204.5h0M348 217h0M360 246h0M376 235h0M364 228h0M362 226h0M360 217.5h0" stroke="#FF1010" stroke-width="1.75" stroke-linecap="round"/>
<path d="M354 211h0M358 231h0M364 218.5h0M378 191h0M356 215.5h0M358 225h0M360 215.5h0M364 237.5h0M362 211h0M372 191h0M366 209h0M360 211.5h0M364 225h0M364 194h0M354 228.5h0" stroke="#1010FF" stroke-width="1.75" stroke-linecap="round"/>
<path d="M346 221h0M356 223h0M368 205h0M360 207h0M328 223.5h0M364 216h0M352 224.5h0M364 227h0M380 235h0M410 200.5h0M352 233h0M364 228h0M354 209h0M362 208.5h0M352 233.5h0M362 227.5h0M364 224h0M364 251.5h0M376 210.5h0" stroke="#FF1010" stroke-width="1.75" stroke-linecap="round"/>
<path d="M352 213h0M368 240h0M370 226.5h0M368 253h0M352 213.5h0M350 233.5h0M364 213.5h0M358 234.5h0M352 215.5h0M362 194.5h0M358 197.5h0M360 219h0M368 226h0M364 228.5h0M334 208h0" stroke="#1010FF" stroke-width="1.75" stroke-linecap="round"/>
<path d="M374 237h0M358 216h0M360 208.5h0M346 219.5h0M358 210.5h0M364 260.5h0M348 199.5h0M364 218h0M352 221.5h0M342 231.5h0M372 235.5h0M360 219.5h0M370 223h0M368 247h0M370 239h0M356 227h0M356 226.5h0M352 246.5h0M372 219.5h0" stroke="#FF1010" stroke-width="1.75" stroke-linecap="round"/>
<path d="M346 201h0M360 232.5h0M366 215.5h0M360 217h0M368 245.5h0M372 226h0M394 221h0M360 237.5h0M358 224h0M344 194.5h0M418 236h0M440 233h0M364 192h0M392 216.5h0M338 228h0" stroke="#1010FF" stroke-width="1.75" stroke-linecap="round"/>
<path d="M366 233.5h0M356 236h0M356 213h0M352 248h0M358 211h0M360 238h0M358 238h0M348 233h0M362 218.5h0M404 214h0M386 246h0M402 248h0M366 263.5h0M362 238.5h0M356 238h0M364 220.5h0M354 200.5h0M370 211.5h0M342 214h0" stroke="#FF1010" stroke-width="1.75" stroke-linecap="round"/>
<path d="M368 220h0M376 217.5h0M392 245.5h0M370 207h0M350 212.5h0M368 214.5h0M364 217h0M350 226h0M378 229h0M348 215.5h0M382 203h0M352 220h0M374 227h0M374 201.5h0M380 207h0" stroke="#1010FF" stroke-width="1.75" stroke-linecap="round"/>
<path d="M360 218h0M358 237.5h0M364 217.5h0M350 229.5h0M364 208.5h0M350 218.5h0M358 207h0M372 226h0M362 218h0M358 209h0M372 225h0M352 226h0M358 217h0M362 203.5h0M360 235h0M426 214h0M456 209h0M366 226h0M362 237.5h0" stroke="#FF1010" stroke-width="1.75" stroke-linecap="round"/>
<path d="M372 237h0M354 227.5h0M358 222.5h0M362 228.5h0M360 218.5h0M352 211.5h0M356 209.5h0M358 218h0M354 210h0M358 220.5h0M346 240h0M370 211h0M336 249h0M374 216h0M350 222h0" stroke="#1010FF" stroke-width="1.75" stroke-linecap="round"/>
<path d="M386 196.5h0M354 234.5h0M376 241.5h0M350 234.5h0M362 222.5h0M354 206h0M362 239h0M376 206h0M350 211h0M394 242h0M366 217.5h0M338 236.5h0M352 181h0M364 217.5h0M346 217h0M366 216h0M360 211.5h0M338 229h0M362 214.5h0" stroke="#FF1010" stroke-width="1.75" stroke-linecap="round"/>
<path d="M350 228h0M350 210h0M348 214h0M362 218h0M354 219h0M384 214.5h0M374 217.5h0M362 205.5h0M372 213.5h0M366 212h0M356 230h0M368 231.5h0M372 231.5h0M362 224h0M360 181.5h0" stroke="#1010FF" stroke-width="1.75" stroke-linecap="round"/>
<path d="M352 245h0M366 216.5h0M368 205.5h0M354 222.5h0M360 206h0M354 206h0M366 220.5h0M372 226h0M352 220.5h0M348 226.5h0M354 202h0M378 230h0M360 213.5h0M354 223.5h0M358 212.5h0M358 219h0M448 229.5h0M354 202h0M374 229.5h0" stroke="#FF1010" stroke-width="1.75" stroke-linecap="round"/>
<path d="M364 205h0M388 233h0M364 214h0M370 231.5h0M348 215.5h0M352 219.5h0M368 210h0M370 225.5h0M368 220h0M380 205.5h0M358 210.5h0M360 214h0M358 233.5h0M364 210.5h0M370 223.5h0" stroke="#1010FF" stroke-width="1.75" stroke-linecap="round"/>
<path d="M388 250h0M354 268h0M460 198.5h0M360 229.5h0M342 255.5h0M378 231h0M374 229.5h0M366 215h0M364 220.5h0M360 245.5h0M380 224.5h0M340 237.5h0M358 211.5h0M364 254.5h0M366 214.5h0M364 229.5h0M378 200.5h0M354 218h0M366 208.5h0" stroke="#FF1010" stroke-width="1.75" stroke-linecap="round"/>
<path d="M366 216h0M392 231h0M364 234.5h0M376 246h0M318 213h0M364 215h0M360 210h0M380 221h0M360 225h0M354 228h0M370 216.5h0M376 232h0M422 217h0M358 232h0M376 216h0" stroke="#1010FF" stroke-width="1.75" stroke-linecap="round"/>
<path d="M364 248.5h0M364 213.5h0M366 231.5h0M370 218h0M370 239.5h0M396 229.5h0M352 215h0M366 221.5h0M348 226.5h0M366 222.5h0M352 250h0M356 210h0M358 240.5h0M464 220.5h0M370 232.5h0M360 210.5h0M340 230.5h0M350 214h0M346 219.5h0" stroke="#FF1010" stroke-width="1.75" stroke-linecap="round"/>
<path d="M384 210h0M370 231.5h0M376 218.5h0M356 219.5h0M380 204h0M366 218h0M364 225h0M352 198.5h0M372 216h0M366 215h0M370 228.5h0M364 224.5h0M372 230h0M354 214h0M370 215.5h0" stroke="#1010FF" stroke-width="1.75" stroke-linecap="round"/>
<path d="M354 241h0M358 204h0M360 213.5h0M388 219.5h0M348 238h0M364 215h0M358 211h0M354 237h0M354 222h0M356 217.5h0M372 229h0M350 220h0M350 210.5h0M346 225h0M354 210h0M356 242.5h0M366 225h0M354 220.5h0M358 205.5h0" stroke="#FF1010" stroke-width="1.75" stroke-linecap="round"/>
<path d="M354 216.5h0M374 226.5h0M356 209h0M342 210.5h0M386 198.5h0M346 192h0M362 202.5h0M356 243.5h0M356 209.5h0M372 227h0M354 187h0M408 216.5h0M366 230h0M412 185h0M360 208h0" stroke="#1010FF" stroke-width="1.75" stroke-linecap="round"/>
<path d="M362 228h0M360 221h0M354 237h0M442 215.5h0M366 230h0M356 213.5h0M352 222h0M362 210h0M372 208.5h0M366 233h0M358 221.5h0M352 229h0M360 241.5h0M354 216h0M398 218h0M446 196.5h0M406 222.5h0M354 196.5h0M362 203.5h0" stroke="#FF1010" stroke-width="1.75" stroke-linecap="round"/>
<path d="M370 229.5h0M362 231.5h0M368 246h0M364 246h0M364 233.5h0M356 212.5h0M360 220h0M364 241.5h0M358 195.5h0M348 226.5h0M358 229.5h0M360 225h0M352 226h0M370 218.5h0M348 217h0" stroke="#1010FF" stroke-width="1.75" stroke-linecap="round"/>
<path d="M354 234h0M356 221h0M358 229h0M356 218.5h0M372 238h0M354 229h0M356 220.5h0M364 251.5h0M362 221h0M360 220h0M384 229.5h0M380 218h0M362 225.5h0M358 233h0M354 229h0M348 207h0M360 219h0M360 231h0M366 214.5h0" stroke="#FF1010" stroke-width="1.75" stroke-linecap="round"/>
<path d="M358 223.5h0M390 214.5h0M360 211.5h0M350 211.5h0M352 211h0M348 204.5h0M354 227.5h0M358 259.5h0M368 212.5h0M356 208h0M358 224h0M362 221h0M392 200.5h0M370 210h0M354 221h0" stroke="#1010FF" stroke-width="1.75" stroke-linecap="round"/>
<path d="M352 228h0M422 216.5h0M334 210.5h0M354 217.5h0M358 213h0M358 208.5h0M438 226.5h0M360 235.5h0M352 229.5h0M360 228.5h0M356 204h0M360 207.5h0M364 240h0M368 229.5h0M352 237h0M358 228h0M354 217h0M364 242.5h0M364 223h0" stroke="#FF1010" stroke-width="1.75" stroke-linecap="round"/>
<path d="M484 202h0M364 234.5h0M350 216.5h0M374 205.5h0M370 207.5h0M360 212h0M356 213h0M356 239h0M384 209h0M352 200h0M352 224h0M350 224.5h0M360 214.5h0M368 214.5h0M362 207h0" stroke="#1010FF" stroke-width="1.75" stroke-linecap="round"/>
<path d="M376 238.5h0M364 238.5h0M356 225h0M370 200h0M384 223h0M350 211h0M378 210.5h0M352 237h0M356 228.5h0M360 221.5h0M360 206h0M366 234.5h0M354 216.5h0M412 208h0M378 234.5h0M362 218h0M362 232h0M350 229h0M370 244.5h0" stroke="#FF1010" stroke-width="1.75" stroke-linecap="round"/>
<path d="M360 222h0M366 221h0M378 230.5h0M404 222h0M372 226.5h0M368 239.5h0M350 211h0M346 219h0M392 221h0M372 204h0M364 218.5h0M350 240.5h0M362 218.5h0M356 239.5h0M352 201h0" stroke="#1010FF" stroke-width="1.75" stroke-linecap="round"/>
<path d="M362 222h0M354 208.5h0M364 228h0M360 235h0M424 214h0M362 218h0M348 237h0M336 214.5h0M356 215h0M354 221.5h0M338 227.5h0M360 231.5h0M352 239h0M444 221h0M380 254.5h0M354 216h0M350 215.5h0M338 253.5h0M374 195h0" stroke="#FF1010" stroke-width="1.75" stroke-linecap="round"/>
<path d="M352 216.5h0M368 213.5h0M372 217.5h0M360 199.5h0M358 216h0M368 207h0M364 221.5h0M382 211.5h0M358 250h0M360 243h0M368 224.5h0M424 200h0M370 238h0M370 222h0M354 225h0" stroke="#1010FF" stroke-width="1.75" stroke-linecap="round"/>
<path d="M358 196.5h0M360 202h0M366 242h0M356 232.5h0M374 226h0M358 219h0M360 212h0M380 229h0M368 214.5h0M368 220.5h0M348 213h0M342 230.5h0M358 219h0M372 202.5h0M356 222.5h0M406 196.5h0M366 224h0M350 204h0M352 228.5h0" stroke="#FF1010" stroke-width="1.75" stroke-linecap="round"/>
<path d="M368 231.5h0M394 192h0M376 212h0M360 253h0M374 212h0M368 204.5h0M354 216.5h0M364 203h0M372 224.5h0M364 216.5h0M300 215.5h0M374 235.5h0M346 248.5h0M360 223.5h0M366 219h0" stroke="#1010FF" stroke-width="1.75" stroke-linecap="round"/>
<path d="M398 232h0M388 213.5h0M384 212.5h0M364 221h0M348 236h0M352 221h0M376 221.5h0M364 226.5h0M360 222.5h0M346 216.5h0M376 229h0M368 218h0M364 221.5h0M370 210.5h0M354 230.5h0M356 227h0M400 237.5h0M370 215.5h0M360 220h0" stroke="#FF1010" stroke-width="1.75" stroke-linecap="round"/>
<path d="M358 218.5h0M346 222h0M356 234h0M350 231.5h0M342 219h0M364 255.5h0M378 180h0M356 249h0M368 240h0M352 207h0M390 222.5h0M364 228.5h0M374 226.5h0M370 221h0M360 233.5h0" stroke="#1010FF" stroke-width="1.75" stroke-linecap="round"/>
<path d="M376 216h0M366 227h0M362 224h0M372 217.5h0M352 248.5h0M358 237.5h0M360 227.5h0M360 231.5h0M354 219.5h0M346 239h0M364 222h0M354 224.5h0M368 226h0M354 213.5h0M364 221h0M370 222.5h0M368 213.5h0M388 239h0M366 245.5h0" stroke="#FF1010" stroke-width="1.75" stroke-linecap="round"/>
<path d="M352 236.5h0M362 221.5h0M366 212h0M344 199h0M360 212h0M348 213.5h0M366 232h0M344 205h0M364 226h0M358 257.5h0M356 209.5h0M372 226.5h0M362 227.5h0M364 202.5h0M358 226.5h0" stroke="#1010FF" stroke-width="1.75" stroke-linecap="round"/>
<path d="M374 205h0M370 225h0M356 209.5h0M360 228h0M350 226h0M372 210.5h0M370 218.5h0M376 218.5h0M358 237h0M352 206h0M358 216h0M354 218h0M356 228h0M358 234h0M384 235.5h0M352 245h0M350 204.5h0M366 230h0M348 236h0" stroke="#FF1010" stroke-width="1.75" stroke-linecap="round"/>
<path d="M364 230h0M344 228.5h0M354 217.5h0M362 213h0M358 216h0M386 232h0M360 219h0M358 209.5h0M368 216h0M358 227h0M366 221h0M366 215h0M366 225.5h0M354 217h0M362 247h0" stroke="#1010FF" stroke-width="1.75" stroke-linecap="round"/>
<path d="M398 237h0M434 238h0M358 205h0M370 217h0M356 268.5h0M370 209.5h0M366 222h0M370 204h0M356 220h0M352 201h0M336 205h0M362 219h0M368 264h0M360 221.5h0M354 206h0M350 243.5h0M374 213.5h0M356 246h0M476 230.5h0" stroke="#FF1010" stroke-width="1.75" stroke-linecap="round"/>
<path d="M370 221.5h0M366 224.5h0M358 221.5h0M362 221h0M366 219h0M364 216h0M366 238h0M360 224h0M354 226.5h0M364 216.5h0M382 200.5h0M356 217h0M370 219.5h0M364 245h0M378 218.5h0" stroke="#1010FF" stroke-width="1.75" stroke-linecap="round"/>
<path d="M362 240h0M350 207.5h0M344 195h0M348 217.5h0M402 197h0M368 231.5h0M366 225.5h0M368 191h0M350 211h0M358 236.5h0M372 234.5h0M356 232h0M368 214h0M410 203.5h0M356 203h0M366 227h0M350 244h0M360 228.5h0M358 226.5h0" stroke="#FF1010" stroke-width="1.75" stroke-linecap="round"/>
<path d="M354 212h0M360 221h0M356 206.5h0M374 218.5h0M366 226.5h0M374 219.5h0M366 231.5h0M366 220h0M360 208.5h0M364 210.5h0M356 198.5h0M362 222.5h0M350 229.5h0M362 218.5h0M354 212.5h0" stroke="#1010FF" stroke-width="1.75" stroke-linecap="round"/>
<path d="M360 212h0M362 235.5h0M366 226h0M360 228h0M358 226.5h0M366 226h0M420 231.5h0M354 218h0M414 244.5h0M360 225.5h0M366 226h0M360 216h0M348 220.5h0M374 240h0M390 199.5h0M354 230.5h0M412 217.5h0M360 196.5h0M370 195.5h0" stroke="#FF1010" stroke-width="1.75" stroke-linecap="round"/>
<path d="M350 214.5h0M390 233h0M358 209h0M392 251h0M354 217h0M356 234h0M352 218.5h0M368 226.5h0M348 196.5h0M362 241h0M348 224.5h0M380 217.5h0M368 232.5h0M366 222.5h0M354 237h0" stroke="#1010FF" stroke-width="1.75" stroke-linecap="round"/>
<path d="M360 253h0M348 220h0M368 250h0M350 229h0M356 207.5h0M344 242h0M342 216h0M360 248h0M370 215.5h0M354 209h0M354 239h0M356 224.5h0M364 215.5h0M356 217.5h0M358 218h0M368 222h0M380 194.5h0M362 215h0M372 232h0" stroke="#FF1010" stroke-width="1.75" stroke-linecap="round"/>
<path d="M364 209h0M360 209.5h0M376 215h0M334 226h0M364 222.5h0M380 218.5h0M352 213.5h0M386 247h0M372 228h0M346 223.5h0M362 207.5h0M384 227h0M372 210h0M378 222h0M354 207.5h0" stroke="#1010FF" stroke-width="1.75" stroke-linecap="round"/>
<path d="M344 226h0M360 235.5h0M354 218h0M348 223h0M352 251.5h0M354 224h0M358 229h0M370 211.5h0M378 240.5h0M354 231.5h0M430 190.5h0M406 234h0M370 227.5h0M354 234.5h0M372 224.5h0M360 221h0M366 226.5h0M348 222.5h0M358 224.5h0" stroke="#FF1010" stroke-width="1.75" stroke-linecap="round"/>
<path d="M398 232.5h0M378 218.5h0M406 233.5h0M358 217h0M376 234h0M426 211.5h0M368 213h0M370 219.5h0M368 230h0M356 218.5h0M358 207.5h0M360 225.5h0M390 216h0M368 217.5h0M370 219h0" stroke="#1010FF" stroke-width="1.75" stroke-linecap="round"/>
<path d="M378 229.5h0M368 224.5h0M354 230.5h0M356 227h0M356 231h0M358 210.5h0M368 214h0M378 229.5h0M372 223.5h0M370 235.5h0M364 228h0M356 230h0M370 247h0M402 209.5h0M350 208h0M364 224h0M342 218.5h0M346 231.5h0M358 223h0" stroke="#FF1010" stroke-width="1.75" stroke-linecap="round"/>
<path d="M354 217.5h0M362 216.5h0M362 234.5h0M352 211h0M356 232h0M356 234.5h0M348 222h0M356 230h0M362 222h0M362 232.5h0M360 244.5h0M360 250h0M348 243.5h0M364 235h0M370 216.5h0" stroke="#1010FF" stroke-width="1.75" stroke-linecap="round"/>
<path d="M370 204h0M364 233h0M352 215.5h0M372 240h0M360 244h0M370 223.5h0M352 217h0M370 213h0M356 231h0M370 216.5h0M374 214h0M358 233h0M360 261h0M368 218.5h0M352 233.5h0M362 216.5h0M368 217.5h0M358 221h0M356 219h0" stroke="#FF1010" stroke-width="1.75" stroke-linecap="round"/>
<path d="M386 207.5h0M362 223.5h0M372 213h0M360 250.5h0M364 230h0M360 216h0M354 223.5h0M360 213.5h0M336 227h0M348 230h0M374 237h0M364 221h0M388 217h0M358 217h0M358 218.5h0" stroke="#1010FF" stroke-width="1.75" stroke-linecap="round"/>
<path d="M352 218h0M366 240.5h0M352 237h0M358 220h0M368 241h0M370 217h0M428 221.5h0M424 213.5h0M366 212h0M358 222h0M344 240.5h0M368 245.5h0M368 244.5h0M356 216.5h0M346 222.5h0M360 220.5h0M376 214.5h0M364 200h0M356 205.5h0" stroke="#FF1010" stroke-width="1.75" stroke-linecap="round"/>
<path d="M370 228h0M364 217.5h0M368 218.5h0M374 225h0M350 222h0M362 222.5h0M358 219h0M374 228h0M364 215h0M352 229h0M376 220.5h0M350 215.5h0M378 206h0M376 222h0M368 202.5h0" stroke="#1010FF" stroke-width="1.75" stroke-linecap="round"/>
<path d="M364 224h0M352 209h0M366 222.5h0M336 220.5h0M358 221.5h0M362 226.5h0M352 231.5h0M362 247h0M378 214h0M352 215h0M364 227h0M358 221.5h0M362 221h0M362 230h0M352 233h0M352 217.5h0M366 211h0M354 214.5h0M354 223h0" stroke="#FF1010" stroke-width="1.75" stroke-linecap="round"/>
<path d="M356 210h0M418 217h0M370 219.5h0M356 212.5h0M360 218h0M338 219h0M362 212h0M454 205.5h0M360 227h0M340 217.5h0M356 218h0M410 213.5h0M366 225.5h0M404 219h0M402 187h0" stroke="#1010FF" stroke-width="1.75" stroke-linecap="round"/>
<path d="M358 228.5h0M364 223h0M352 199.5h0M360 221h0M348 216.5h0M360 215.5h0M354 238.5h0M336 214.5h0M366 222h0M368 193.5h0M364 227h0M362 237.5h0M380 230h0M366 212h0M368 215h0M344 235h0M352 229.5h0M360 218.5h0M392 236.5h0" stroke="#FF1010" stroke-width="1.75" stroke-linecap="round"/>
<path d="M358 218h0M412 219h0M360 216h0M404 194.5h0M384 221h0M352 226.5h0M340 216.5h0M368 217.5h0M368 212.5h0M366 211.5h0M376 219h0M364 224.5h0M368 228.5h0M350 226h0M354 236.5h0" stroke="#1010FF" stroke-width="1.75" stroke-linecap="round"/>
<path d="M380 215h0M356 230h0M362 215.5h0M362 229h0M356 212.5h0M362 237h0M344 210h0M354 229.5h0M442 195h0M440 198h0M372 194h0M356 221.5h0M370 206.5h0M370 233.5h0M370 212.5h0M338 231h0M368 215.5h0M428 220h0M364 278h0" stroke="#FF1010" stroke-width="1.75" stroke-linecap="round"/>
<path d="M408 210.5h0M364 219h0M410 231.5h0M364 229.5h0M360 213h0M362 212.5h0M346 220h0M372 211.5h0M354 222.5h0M356 226.5h0M340 212.5h0M362 218h0M426 217.5h0M358 239.5h0M366 259h0" stroke="#1010FF" stroke-width="1.75" stroke-linecap="round"/>
<path d="M360 224.5h0M364 216.5h0M346 227.5h0M394 217h0M366 219h0M366 217h0M376 275h0M356 213h0M346 218.5h0M358 215.5h0M358 226h0M364 208h0M352 240.5h0M380 212h0M364 229h0M370 235h0M350 239h0M342 220.5h0M356 209.5h0" stroke="#FF1010" stroke-width="1.75" stroke-linecap="round"/>
<path d="M352 211h0M362 215h0M360 217h0M364 233h0M370 197.5h0M376 229h0M370 217h0M358 219.5h0M368 227h0M456 189h0M368 196.5h0M364 220.5h0M362 218.5h0M366 221.5h0M350 230h0" stroke="#1010FF" stroke-width="1.75" stroke-linecap="round"/>
<path d="M356 234h0M370 202.5h0M366 226h0M356 233h0M366 226.5h0M366 203h0M366 252.5h0M348 223.5h0M366 228h0M376 220.5h0M362 207.5h0M410 214h0M364 220h0M368 224h0M356 208h0M414 207.5h0M364 212.5h0M340 229.5h0M358 223.5h0" stroke="#FF1010" stroke-width="1.75" stroke-linecap="round"/>
<path d="M360 230h0M360 217.5h0M352 204.5h0M366 219h0M370 214h0M342 228h0M348 222.5h0M340 234.5h0M370 208h0M374 212h0M364 220h0M366 205h0M376 207h0M378 231.5h0M354 236h0" stroke="#1010FF" stroke-width="1.75" stroke-linecap="round"/>
<path d="M350 221.5h0M398 194h0M372 216h0M364 237h0M350 230.5h0M352 236h0M356 219.5h0M396 206.5h0M348 220.5h0M364 234.5h0M358 214.5h0M382 246.5h0M356 213h0M360 228.5h0M356 223h0M356 230.5h0M362 230h0M366 203h0M354 224.5h0" stroke="#FF1010" stroke-width="1.75" stroke-linecap="round"/>
<path d="M370 215.5h0M350 234.5h0M364 218h0M354 219.5h0M388 252.5h0M380 229.5h0M438 197.5h0M372 207.5h0M372 206.5h0M360 217h0M380 218.5h0M358 249.5h0M366 212h0M370 213.5h0M364 209.5h0" stroke="#1010FF" stroke-width="1.75" stroke-linecap="round"/>
<path d="M364 244h0M356 200.5h0M372 211.5h0M364 233h0M350 214.5h0M344 213h0M368 205.5h0M358 243.5h0M360 214.5h0M356 227h0M358 224.5h0M356 215.5h0M346 212.5h0M356 212.5h0M348 211h0M344 214h0M356 212.5h0M350 225.5h0M372 209h0" stroke="#FF1010" stroke-width="1.75" stroke-linecap="round"/>
<path d="M354 227.5h0M364 224.5h0M348 213.5h0M374 202.5h0M346 221.5h0M380 223h0M382 202.5h0M366 191h0M384 222h0M372 246h0M348 218.5h0M410 202.5h0M354 206h0M356 238h0M408 230h0" stroke="#1010FF" stroke-width="1.75" stroke-linecap="round"/>
<path d="M366 231.5h0M362 201h0M366 216.5h0M356 214.5h0M364 227h0M352 209.5h0M378 240.5h0M346 219.5h0M358 229h0M384 234.5h0M358 221.5h0M354 236.5h0M358 226h0M368 218h0M362 232.5h0M358 225.5h0M396 208h0M372 223.5h0M372 226.5h0" stroke="#FF1010" stroke-width="1.75" stroke-linecap="round"/>
<path d="M370 236h0M360 221h0M360 233.5h0M366 234.5h0M360 203.5h0M362 224h0M376 219.5h0M370 227.5h0M358 213h0M354 233.5h0M328 219.5h0M356 215h0M360 209h0M350 241h0M374 208.5h0" stroke="#1010FF" stroke-width="1.75" stroke-linecap="round"/>
<path d="M376 230h0M348 234h0M338 236.5h0M384 213h0M360 223.5h0M356 211.5h0M436 201.5h0M378 227.5h0M358 219.5h0M354 221.5h0M370 215h0M352 226h0M378 201.5h0M354 230.5h0M396 212h0M376 234.5h0M376 226.5h0M362 217.5h0M360 216h0" stroke="#FF1010" stroke-width="1.75" stroke-linecap="round"/>
<path d="M426 204h0M366 219h0M336 225h0M352 211h0M360 233.5h0M378 242h0M358 208h0M340 207h0M368 227.5h0M404 220.5h0M350 223.5h0M370 221h0M370 246.5h0M360 230h0M362 212.5h0" stroke="#1010FF" stroke-width="1.75" stroke-linecap="round"/>
<path d="M350 225h0M358 212.5h0M360 242h0M334 237.5h0M336 214.5h0M362 215.5h0M362 212.5h0M386 219h0M390 207.5h0M380 214h0M358 220h0M380 268h0M360 220h0M362 253h0M372 221.5h0M356 216.5h0M368 246.5h0M360 232.5h0M364 216.5h0" stroke="#FF1010" stroke-width="1.75" stroke-linecap="round"/>
<path d="M354 221.5h0M380 196.5h0M364 214h0M318 213.5h0M350 223.5h0M358 223.5h0M364 248.5h0M354 220h0M358 220.5h0M340 214.5h0M346 234h0M368 213h0M366 245.5h0M372 213h0M358 213.5h0" stroke="#1010FF" stroke-width="1.75" stroke-linecap="round"/>
<path d="M366 220h0M362 259.5h0M362 213.5h0M358 207h0M378 217.5h0M366 186.5h0M352 223.5h0M374 223h0M362 203h0M346 230.5h0M368 230.5h0M398 216.5h0M306 242.5h0M352 216h0M352 246.5h0M368 213.5h0M350 250h0M358 219h0M352 242.5h0" stroke="#FF1010" stroke-width="1.75" stroke-linecap="round"/>
<path d="M374 187.5h0M368 216h0M362 191.5h0M370 216h0M370 201h0M368 225h0M356 209.5h0M388 211.5h0M444 226h0M386 203.5h0M366 230.5h0M352 222h0M344 220h0M360 218.5h0M368 234.5h0" stroke="#1010FF" stroke-width="1.75" stroke-linecap="round"/>
<path d="M348.5 279.5h0M350 279.5h0M351.5 279.5h0M353 279.5h0M354.5 279.5h0M356 279.5h0M357.5 279.5h0M359 279.5h0M360.5 279.5h0M362 279.5h0M363.5 279.5h0M365 279.5h0M366.5 279.5h0M368 279.5h0M369.5 279.5h0M340.5 279.5h0M344.5 279.5h0M353 267h0M355 270.5h0M358.5 270h0M361 269h0M362 272.5h0M365.5 273h0M357 275.5h0M353 274.5h0M360.5 274.5h0M346.5 261.5h0M349 257h0M357 258h0M366 256.5h0M367 258h0" stroke="#FF1010" stroke-width="1.75" stroke-linecap="round"/>
<path d="M352.5 279.5h0M356 279.5h0M358 279.5h0M360 279.5h0M362 279.5h0M369.5 279.5h0M358.5 259h0" stroke="#1010FF" stroke-width="1.75" stroke-linecap="round"/>
<polygon points="324.0,224.9 327.3,224.8 330.5,224.7 333.8,224.6 337.1,224.4 340.3,224.3 343.6,224.2 346.8,224.0 350.1,223.8 353.4,223.6 356.6,223.4 359.9,223.1 363.2,222.8 366.4,222.4 369.7,222.0 373.0,221.6 376.2,221.2 379.5,220.7 382.8,220.2 386.0,219.7 389.3,219.2 392.5,218.7 395.8,218.2 399.1,217.7 402.3,217.2 405.6,216.7 408.9,216.2 412.1,215.7 415.4,215.2 418.7,214.6 421.9,214.1 425.2,213.6 428.5,213.1 431.7,212.5 435.0,212.0 438.2,211.5 441.5,211.0 444.8,210.5 448.0,209.9 451.3,209.4 451.3,221.8 448.0,221.9 444.8,222.0 441.5,222.1 438.2,222.2 435.0,222.3 431.7,222.4 428.5,222.5 425.2,222.6 421.9,222.7 418.7,222.8 415.4,222.9 412.1,223.0 408.9,223.1 405.6,223.2 402.3,223.3 399.1,223.4 395.8,223.5 392.5,223.6 389.3,223.7 386.0,223.9 382.8,224.0 379.5,224.2 376.2,224.3 373.0,224.5 369.7,224.7 366.4,224.9 363.2,225.2 359.9,225.5 356.6,225.8 353.4,226.2 350.1,226.6 346.8,227.1 343.6,227.5 340.3,228.0 337.1,228.5 333.8,229.0 330.5,229.5 327.3,230.0 324.0,230.5" fill="#999" fill-opacity="0.4"/>
<polygon points="317.7,222.3 321.5,222.1 325.3,221.9 329.1,221.6 332.8,221.4 336.6,221.2 340.4,220.9 344.2,220.6 348.0,220.4 351.8,220.0 355.5,219.7 359.3,219.2 363.1,218.7 366.9,218.1 370.7,217.4 374.5,216.7 378.3,216.0 382.0,215.2 385.8,214.4 389.6,213.6 393.4,212.8 397.2,212.0 401.0,211.2 404.7,210.4 408.5,209.6 412.3,208.8 416.1,207.9 419.9,207.1 423.7,206.3 427.5,205.5 431.2,204.6 435.0,203.8 438.8,203.0 442.6,202.2 446.4,201.3 450.2,200.5 453.9,199.7 457.7,198.9 461.5,198.0 465.3,197.2 465.3,214.8 461.5,215.0 457.7,215.2 453.9,215.4 450.2,215.6 446.4,215.8 442.6,216.0 438.8,216.2 435.0,216.4 431.2,216.6 427.5,216.8 423.7,217.0 419.9,217.3 416.1,217.5 412.3,217.7 408.5,217.9 404.7,218.1 401.0,218.3 397.2,218.5 393.4,218.8 389.6,219.0 385.8,219.2 382.0,219.5 378.3,219.7 374.5,220.0 370.7,220.3 366.9,220.7 363.1,221.1 359.3,221.6 355.5,222.2 351.8,222.9 348.0,223.6 344.2,224.3 340.4,225.1 336.6,225.9 332.8,226.7 329.1,227.5 325.3,228.3 321.5,229.1 317.7,229.9" fill="#999" fill-opacity="0.4"/>
<line x1="324" y1="227.7" x2="451.3" y2="215.6" stroke="#E8302A" stroke-width="1.0"/>
<line x1="317.7" y1="226.1" x2="465.3" y2="206.0" stroke="#3030E8" stroke-width="1.0"/>
</g>
<line x1="302.2" y1="285.0" x2="302.2" y2="286.6" stroke="#555" stroke-width="0.45"/>
<text x="302.2" y="292.1" font-size="5.0" fill="#4a4a4a" text-anchor="middle">0.5</text>
<line x1="349.4" y1="285.0" x2="349.4" y2="286.6" stroke="#555" stroke-width="0.45"/>
<text x="349.4" y="292.1" font-size="5.0" fill="#4a4a4a" text-anchor="middle">0.7</text>
<line x1="396.6" y1="285.0" x2="396.6" y2="286.6" stroke="#555" stroke-width="0.45"/>
<text x="396.6" y="292.1" font-size="5.0" fill="#4a4a4a" text-anchor="middle">0.9</text>
<line x1="443.8" y1="285.0" x2="443.8" y2="286.6" stroke="#555" stroke-width="0.45"/>
<text x="443.8" y="292.1" font-size="5.0" fill="#4a4a4a" text-anchor="middle">1.1</text>
<line x1="291.4" y1="187.4" x2="293.0" y2="187.4" stroke="#555" stroke-width="0.45"/>
<text x="290.5" y="189.2" font-size="5.0" fill="#4a4a4a" text-anchor="end">2</text>
<line x1="291.4" y1="222.2" x2="293.0" y2="222.2" stroke="#555" stroke-width="0.45"/>
<text x="290.5" y="224.0" font-size="5.0" fill="#4a4a4a" text-anchor="end">1</text>
<line x1="291.4" y1="257.0" x2="293.0" y2="257.0" stroke="#555" stroke-width="0.45"/>
<text x="290.5" y="258.8" font-size="5.0" fill="#4a4a4a" text-anchor="end">0</text>
<text x="0.9" y="10" font-size="12.2" fill="#111" textLength="7.6" lengthAdjust="spacingAndGlyphs">A</text>
<text x="261.0" y="10" font-size="12.2" fill="#111">B</text>
<text x="511.7" y="10" font-size="12.2" fill="#111" textLength="7.6" lengthAdjust="spacingAndGlyphs">C</text>
<text x="3.3" y="169.4" font-size="12.2" fill="#111">D</text>
<text x="263.9" y="169.2" font-size="12.2" fill="#111" textLength="6.3" lengthAdjust="spacingAndGlyphs">E</text>
<text x="514.8" y="169.2" font-size="12.2" fill="#111" textLength="5.6" lengthAdjust="spacingAndGlyphs">F</text>
<text x="117.2" y="148.8" font-size="8.8" fill="#1a1a1a" stroke="#1a1a1a" stroke-width="0.3" textLength="41.6" lengthAdjust="spacingAndGlyphs">Log<tspan font-size="6.34">10</tspan>(FPG)</text>
<text x="28.0" y="110.4" font-size="8.8" fill="#1a1a1a" stroke="#1a1a1a" stroke-width="0.3" textLength="70.0" lengthAdjust="spacingAndGlyphs" transform="rotate(-90 28.0 110.4)">Log<tspan font-size="6.34">10</tspan>(Fast Insulin)</text>
<text x="363.0" y="146.8" font-size="8.8" fill="#1a1a1a" stroke="#1a1a1a" stroke-width="0.3" textLength="51.3" lengthAdjust="spacingAndGlyphs">Log<tspan font-size="6.34">10</tspan>(HbA1c)</text>
<text x="278.6" y="105.5" font-size="8.8" fill="#1a1a1a" stroke="#1a1a1a" stroke-width="0.3" textLength="69.0" lengthAdjust="spacingAndGlyphs" transform="rotate(-90 278.6 105.5)">Log<tspan font-size="6.34">10</tspan>(Fast Insulin)</text>
<text x="119.9" y="308.4" font-size="8.8" fill="#1a1a1a" stroke="#1a1a1a" stroke-width="0.3" textLength="41.2" lengthAdjust="spacingAndGlyphs">Log<tspan font-size="6.34">10</tspan>(FPG)</text>
<text x="30.8" y="269.5" font-size="8.8" fill="#1a1a1a" stroke="#1a1a1a" stroke-width="0.3" textLength="82.2" lengthAdjust="spacingAndGlyphs" transform="rotate(-90 30.8 269.5)">Log<tspan font-size="6.34">10</tspan>(Fast Proinsulin)</text>
<text x="365.7" y="306.1" font-size="8.8" fill="#1a1a1a" stroke="#1a1a1a" stroke-width="0.3" textLength="51.1" lengthAdjust="spacingAndGlyphs">Log<tspan font-size="6.34">10</tspan>(HbA1c)</text>
<text x="282.2" y="265.3" font-size="8.8" fill="#1a1a1a" stroke="#1a1a1a" stroke-width="0.3" textLength="83.0" lengthAdjust="spacingAndGlyphs" transform="rotate(-90 282.2 265.3)">Log<tspan font-size="6.34">10</tspan>(Fast Proinsulin)</text>
<text x="250.4" y="113.5" font-size="7.6" fill="#2B7BC4" text-anchor="end" textLength="126.9" lengthAdjust="spacingAndGlyphs" stroke="#2B7BC4" stroke-width="0.18">Male: ρ=0.17(***), B=0.004±0.002(**)</text>
<text x="251.0" y="124.3" font-size="7.6" fill="#EE1C1C" text-anchor="end" textLength="139.0" lengthAdjust="spacingAndGlyphs" stroke="#EE1C1C" stroke-width="0.18">Female: ρ=0.27(***), B=0.004±0.001(***)</text>
<text x="504.7" y="111.2" font-size="7.6" fill="#2B7BC4" text-anchor="end" textLength="130.9" lengthAdjust="spacingAndGlyphs" stroke="#2B7BC4" stroke-width="0.18">Male: ρ=0.07(ns), B= 0.002±0.001(ns)</text>
<text x="504.7" y="122.5" font-size="7.6" fill="#EE1C1C" text-anchor="end" textLength="135.9" lengthAdjust="spacingAndGlyphs" stroke="#EE1C1C" stroke-width="0.18">Female: ρ=0.11(***), B=0.002±0.001(**)</text>
<text x="254.7" y="269.6" font-size="7.6" fill="#2B7BC4" text-anchor="end" textLength="129.8" lengthAdjust="spacingAndGlyphs" stroke="#2B7BC4" stroke-width="0.18">Male: ρ=0.25(***), B=0.026±0.004(***)</text>
<text x="254.7" y="281.3" font-size="7.6" fill="#EE1C1C" text-anchor="end" textLength="138.6" lengthAdjust="spacingAndGlyphs" stroke="#EE1C1C" stroke-width="0.18">Female: ρ=0.27(***), B=0.037±0.004(***)</text>
<text x="518.9" y="274.6" font-size="7.6" fill="#2B7BC4" text-anchor="end" textLength="127.2" lengthAdjust="spacingAndGlyphs" stroke="#2B7BC4" stroke-width="0.18">Male: ρ=0.12(**), B=0.011±0.003(***)</text>
<text x="518.9" y="284.0" font-size="7.6" fill="#EE1C1C" text-anchor="end" textLength="133.0" lengthAdjust="spacingAndGlyphs" stroke="#EE1C1C" stroke-width="0.18">Female: ρ=0.06(*), B=0.016±0.003(***)</text>
<rect x="568.5" y="8.2" width="114.89999999999998" height="115.2" fill="none" stroke="#7a7a7a" stroke-width="1"/>
<line x1="572.4" y1="123.4" x2="572.4" y2="127.0" stroke="#7a7a7a" stroke-width="0.8"/>
<text x="572.4" y="135.9" font-size="6.2" fill="#555" text-anchor="middle">0.0</text>
<line x1="564.9" y1="119.5" x2="568.5" y2="119.5" stroke="#7a7a7a" stroke-width="0.8"/>
<text x="560.3" y="119.5" font-size="6.2" fill="#555" text-anchor="middle" transform="rotate(-90 560.3 119.5)">0.0</text>
<line x1="593.8" y1="123.4" x2="593.8" y2="127.0" stroke="#7a7a7a" stroke-width="0.8"/>
<text x="593.8" y="135.9" font-size="6.2" fill="#555" text-anchor="middle">0.2</text>
<line x1="564.9" y1="98.1" x2="568.5" y2="98.1" stroke="#7a7a7a" stroke-width="0.8"/>
<text x="560.3" y="98.1" font-size="6.2" fill="#555" text-anchor="middle" transform="rotate(-90 560.3 98.1)">0.2</text>
<line x1="615.2" y1="123.4" x2="615.2" y2="127.0" stroke="#7a7a7a" stroke-width="0.8"/>
<text x="615.2" y="135.9" font-size="6.2" fill="#555" text-anchor="middle">0.4</text>
<line x1="564.9" y1="76.6" x2="568.5" y2="76.6" stroke="#7a7a7a" stroke-width="0.8"/>
<text x="560.3" y="76.6" font-size="6.2" fill="#555" text-anchor="middle" transform="rotate(-90 560.3 76.6)">0.4</text>
<line x1="636.6" y1="123.4" x2="636.6" y2="127.0" stroke="#7a7a7a" stroke-width="0.8"/>
<text x="636.6" y="135.9" font-size="6.2" fill="#555" text-anchor="middle">0.6</text>
<line x1="564.9" y1="55.2" x2="568.5" y2="55.2" stroke="#7a7a7a" stroke-width="0.8"/>
<text x="560.3" y="55.2" font-size="6.2" fill="#555" text-anchor="middle" transform="rotate(-90 560.3 55.2)">0.6</text>
<line x1="658.0" y1="123.4" x2="658.0" y2="127.0" stroke="#7a7a7a" stroke-width="0.8"/>
<text x="658.0" y="135.9" font-size="6.2" fill="#555" text-anchor="middle">0.8</text>
<line x1="564.9" y1="33.7" x2="568.5" y2="33.7" stroke="#7a7a7a" stroke-width="0.8"/>
<text x="560.3" y="33.7" font-size="6.2" fill="#555" text-anchor="middle" transform="rotate(-90 560.3 33.7)">0.8</text>
<line x1="679.4" y1="123.4" x2="679.4" y2="127.0" stroke="#7a7a7a" stroke-width="0.8"/>
<text x="679.4" y="135.9" font-size="6.2" fill="#555" text-anchor="middle">1.0</text>
<line x1="564.9" y1="12.3" x2="568.5" y2="12.3" stroke="#7a7a7a" stroke-width="0.8"/>
<text x="560.3" y="12.3" font-size="6.2" fill="#555" text-anchor="middle" transform="rotate(-90 560.3 12.3)">1.0</text>
<line x1="572.4" y1="119.5" x2="679.4" y2="12.3" stroke="#b0b0b0" stroke-width="0.55"/>
<polyline points="572.4,119.5 572.4,118.0 572.5,118.0 572.5,116.1 572.7,116.1 572.9,116.1 572.9,114.3 572.9,112.7 573.0,112.7 573.7,112.7 573.7,111.6 574.7,111.6 574.7,110.2 575.5,110.2 575.5,109.0 576.4,109.0 576.4,107.7 576.4,106.1 576.8,106.1 577.2,106.1 577.2,104.3 578.1,104.3 578.1,103.0 578.9,103.0 578.9,101.8 581.4,101.8 581.4,101.8 581.4,100.3 582.4,100.3 583.1,100.3 583.1,99.3 583.1,98.1 583.9,98.1 584.7,98.1 584.7,96.8 585.5,96.8 585.5,95.7 586.4,95.7 586.4,94.3 586.4,93.6 587.5,93.6 587.5,92.6 588.9,92.6 590.0,92.6 590.0,91.5 590.0,90.1 591.4,90.1 591.4,88.4 593.1,88.4 593.1,87.1 594.4,87.1 595.6,87.1 595.6,85.9 595.6,84.8 596.4,84.8 596.4,83.4 597.3,83.4 597.3,82.2 598.9,82.2 600.6,82.2 600.6,80.9 600.6,80.0 601.9,80.0 601.9,79.2 603.1,79.2 604.2,79.2 604.2,77.7 604.2,75.9 605.7,75.9 608.0,75.9 608.0,75.0 608.7,75.0 608.7,73.7 609.5,73.7 609.5,72.2 609.5,70.5 610.4,70.5 610.4,69.6 611.5,69.6 611.5,68.8 612.6,68.8 613.9,68.8 613.9,67.7 615.4,67.7 615.4,67.1 615.4,66.6 616.8,66.6 616.8,65.9 618.5,65.9 618.5,64.5 619.5,64.5 619.5,62.9 620.5,62.9 620.5,61.9 621.1,61.9 621.1,60.2 622.3,60.2 623.1,60.2 623.1,58.9 623.1,58.1 624.7,58.1 624.7,57.3 626.4,57.3 626.4,56.6 627.8,56.6 627.8,55.2 629.6,55.2 629.6,54.1 631.1,54.1 631.1,53.1 632.4,53.1 632.4,52.2 634.0,52.2 634.0,51.5 635.1,51.5 636.5,51.5 636.5,50.7 638.2,50.7 638.2,49.7 639.8,49.7 639.8,48.5 641.4,48.5 641.4,47.3 642.8,47.3 642.8,46.2 642.8,45.2 644.2,45.2 644.2,43.8 646.0,43.8 647.5,43.8 647.5,42.7 647.5,41.4 648.6,41.4 648.6,40.4 649.5,40.4 649.5,39.4 650.3,39.4 650.3,38.2 651.5,38.2 651.5,37.3 652.3,37.3 652.3,36.8 653.8,36.8 655.4,36.8 655.4,36.3 655.4,35.7 657.0,35.7 657.0,35.2 658.5,35.2 659.4,35.2 659.4,34.1 659.4,32.7 660.6,32.7 660.6,31.6 661.6,31.6 663.1,31.6 663.1,30.1 663.8,30.1 663.8,28.7 663.8,27.5 664.5,27.5 664.5,26.0 665.2,26.0 665.2,24.4 666.2,24.4 667.9,24.4 667.9,24.2 667.9,23.9 669.8,23.9 670.7,23.9 670.7,23.3 671.9,23.3 671.9,22.4 671.9,20.6 672.5,20.6 672.9,20.6 672.9,19.2 673.4,19.2 673.4,17.8 673.4,15.7 674.4,15.7 674.4,14.7 675.4,14.7 676.5,14.7 676.5,13.7 678.1,13.7 678.1,12.9 679.4,12.9 679.4,12.3" fill="none" stroke="#1a1a1a" stroke-width="1.15" stroke-linejoin="round"/>
<polyline points="572.4,119.5 572.4,117.9 572.4,117.9 572.4,115.8 572.5,115.8 572.5,114.4 572.5,114.4 573.1,114.4 573.1,112.9 573.1,111.0 573.9,111.0 574.8,111.0 574.8,109.1 574.8,107.7 575.5,107.7 575.5,106.0 576.4,106.0 576.4,104.3 577.2,104.3 577.2,103.1 577.8,103.1 577.8,101.8 578.4,101.8 578.4,100.2 579.2,100.2 579.8,100.2 579.8,99.1 580.6,99.1 580.6,97.6 580.6,96.0 581.6,96.0 582.4,96.0 582.4,94.6 583.1,94.6 583.1,93.4 583.1,91.5 584.0,91.5 584.0,90.1 584.7,90.1 586.1,90.1 586.1,88.2 587.2,88.2 587.2,86.7 587.2,85.2 588.0,85.2 588.9,85.2 588.9,83.4 589.9,83.4 589.9,82.7 589.9,81.7 591.4,81.7 591.4,80.4 592.3,80.4 592.3,79.2 593.1,79.2 593.6,79.2 593.6,78.0 594.3,78.0 594.3,76.3 594.8,76.3 594.8,75.0 595.7,75.0 595.7,73.2 596.5,73.2 596.5,71.7 596.5,69.7 597.2,69.7 597.2,68.2 597.8,68.2 597.8,66.8 599.4,66.8 600.7,66.8 600.7,65.5 601.9,65.5 601.9,64.5 602.9,64.5 602.9,62.8 603.6,62.8 603.6,61.8 603.6,60.1 604.6,60.1 604.6,58.9 606.1,58.9 607.6,58.9 607.6,57.8 608.9,57.8 608.9,56.7 608.9,55.5 610.4,55.5 611.9,55.5 611.9,54.4 613.6,54.4 613.6,53.1 613.6,52.0 615.0,52.0 615.0,51.5 616.8,51.5 616.8,51.2 618.2,51.2 618.2,50.8 619.7,50.8 619.7,49.8 621.0,49.8 622.9,49.8 622.9,48.5 622.9,47.4 624.3,47.4 625.6,47.4 625.6,45.8 625.6,44.4 626.7,44.4 626.7,42.9 627.9,42.9 628.9,42.9 628.9,41.6 628.9,40.6 630.3,40.6 630.3,39.3 632.0,39.3 633.6,39.3 633.6,38.1 635.3,38.1 635.3,37.0 636.6,37.0 636.6,36.2 638.2,36.2 638.2,35.3 640.0,35.3 640.0,34.9 640.0,34.9 641.6,34.9 641.6,34.9 643.2,34.9 643.2,34.9 645.1,34.9 646.2,34.9 646.2,33.7 646.2,32.7 647.2,32.7 648.6,32.7 648.6,31.8 649.8,31.8 649.8,31.1 649.8,29.9 650.8,29.9 651.8,29.9 651.8,28.6 653.0,28.6 653.0,27.9 653.0,27.0 654.4,27.0 655.5,27.0 655.5,26.3 655.5,25.3 657.0,25.3 657.0,24.5 658.1,24.5 658.1,23.4 659.5,23.4 660.4,23.4 660.4,22.5 661.6,22.5 661.6,21.4 661.6,21.2 663.1,21.2 664.7,21.2 664.7,20.9 665.7,20.9 665.7,19.6 666.7,19.6 666.7,18.3 666.7,17.4 667.6,17.4 668.8,17.4 668.8,16.2 668.8,15.2 670.8,15.2 670.8,14.3 671.5,14.3 671.5,13.1 672.4,13.1 673.6,13.1 673.6,13.1 673.6,13.1 675.0,13.1 677.0,13.1 677.0,12.3 677.0,12.3 679.4,12.3" fill="none" stroke="#EE1C1C" stroke-width="1.15" stroke-linejoin="round"/>
<text x="574.6" y="21.75" font-size="8.5" fill="#111" textLength="43.4" lengthAdjust="spacingAndGlyphs" stroke="#111" stroke-width="0.18">Fast Insulin</text>
<text x="680.4" y="97.1" font-size="8.3" fill="#111" text-anchor="end" textLength="15.0" lengthAdjust="spacingAndGlyphs" stroke="#111" stroke-width="0.18">AUC</text>
<text x="680.4" y="107.5" font-size="8.3" fill="#111" text-anchor="end" textLength="68.8" lengthAdjust="spacingAndGlyphs" stroke="#111" stroke-width="0.18">Male 0.55±0.04(ns)</text>
<text x="680.4" y="118" font-size="8.3" fill="#EE1C1C" text-anchor="end" textLength="81.4" lengthAdjust="spacingAndGlyphs" stroke="#EE1C1C" stroke-width="0.18">Female 0.64±0.03(***)</text>
<rect x="570.8" y="169.3" width="112.5" height="112.19999999999999" fill="none" stroke="#7a7a7a" stroke-width="1"/>
<line x1="575.3" y1="281.5" x2="575.3" y2="285.1" stroke="#7a7a7a" stroke-width="0.8"/>
<text x="575.3" y="294.0" font-size="6.2" fill="#555" text-anchor="middle">0.0</text>
<line x1="567.1999999999999" y1="277.1" x2="570.8" y2="277.1" stroke="#7a7a7a" stroke-width="0.8"/>
<text x="562.5999999999999" y="277.1" font-size="6.2" fill="#555" text-anchor="middle" transform="rotate(-90 562.5999999999999 277.1)">0.0</text>
<line x1="596.0" y1="281.5" x2="596.0" y2="285.1" stroke="#7a7a7a" stroke-width="0.8"/>
<text x="596.0" y="294.0" font-size="6.2" fill="#555" text-anchor="middle">0.2</text>
<line x1="567.1999999999999" y1="256.5" x2="570.8" y2="256.5" stroke="#7a7a7a" stroke-width="0.8"/>
<text x="562.5999999999999" y="256.5" font-size="6.2" fill="#555" text-anchor="middle" transform="rotate(-90 562.5999999999999 256.5)">0.2</text>
<line x1="616.7" y1="281.5" x2="616.7" y2="285.1" stroke="#7a7a7a" stroke-width="0.8"/>
<text x="616.7" y="294.0" font-size="6.2" fill="#555" text-anchor="middle">0.4</text>
<line x1="567.1999999999999" y1="235.9" x2="570.8" y2="235.9" stroke="#7a7a7a" stroke-width="0.8"/>
<text x="562.5999999999999" y="235.9" font-size="6.2" fill="#555" text-anchor="middle" transform="rotate(-90 562.5999999999999 235.9)">0.4</text>
<line x1="637.3" y1="281.5" x2="637.3" y2="285.1" stroke="#7a7a7a" stroke-width="0.8"/>
<text x="637.3" y="294.0" font-size="6.2" fill="#555" text-anchor="middle">0.6</text>
<line x1="567.1999999999999" y1="215.3" x2="570.8" y2="215.3" stroke="#7a7a7a" stroke-width="0.8"/>
<text x="562.5999999999999" y="215.3" font-size="6.2" fill="#555" text-anchor="middle" transform="rotate(-90 562.5999999999999 215.3)">0.6</text>
<line x1="658.0" y1="281.5" x2="658.0" y2="285.1" stroke="#7a7a7a" stroke-width="0.8"/>
<text x="658.0" y="294.0" font-size="6.2" fill="#555" text-anchor="middle">0.8</text>
<line x1="567.1999999999999" y1="194.7" x2="570.8" y2="194.7" stroke="#7a7a7a" stroke-width="0.8"/>
<text x="562.5999999999999" y="194.7" font-size="6.2" fill="#555" text-anchor="middle" transform="rotate(-90 562.5999999999999 194.7)">0.8</text>
<line x1="678.7" y1="281.5" x2="678.7" y2="285.1" stroke="#7a7a7a" stroke-width="0.8"/>
<text x="678.7" y="294.0" font-size="6.2" fill="#555" text-anchor="middle">1.0</text>
<line x1="567.1999999999999" y1="174.1" x2="570.8" y2="174.1" stroke="#7a7a7a" stroke-width="0.8"/>
<text x="562.5999999999999" y="174.1" font-size="6.2" fill="#555" text-anchor="middle" transform="rotate(-90 562.5999999999999 174.1)">1.0</text>
<line x1="575.3" y1="277.1" x2="678.7" y2="174.1" stroke="#b0b0b0" stroke-width="0.55"/>
<polyline points="575.3,277.6 575.3,277.6 575.3,275.7 575.3,274.1 575.3,274.1 575.3,272.3 575.3,272.3 575.3,272.3 575.3,271.0 575.3,271.0 575.3,268.9 575.3,267.3 575.3,267.3 575.8,267.3 575.8,265.4 575.8,263.8 576.3,263.8 577.3,263.8 577.3,261.8 577.3,260.2 578.1,260.2 578.9,260.2 578.9,258.6 578.9,256.6 579.9,256.6 579.9,255.1 580.5,255.1 580.5,253.5 581.1,253.5 581.1,252.1 581.7,252.1 581.7,250.5 582.1,250.5 582.1,248.8 582.6,248.8 583.1,248.8 583.1,247.3 583.1,245.8 583.5,245.8 583.5,244.3 585.0,244.3 586.2,244.3 586.2,243.1 586.2,242.7 587.9,242.7 587.9,242.2 589.8,242.2 589.8,241.3 591.2,241.3 591.2,240.4 592.5,240.4 593.0,240.4 593.0,239.1 593.8,239.1 593.8,237.2 593.8,235.9 594.3,235.9 594.3,234.2 595.3,234.2 596.1,234.2 596.1,232.8 597.2,232.8 597.2,232.6 598.8,232.6 598.8,232.3 598.8,231.9 600.8,231.9 602.5,231.9 602.5,231.5 602.5,229.3 603.7,229.3 603.7,228.6 605.5,228.6 605.5,228.0 606.9,228.0 606.9,226.6 607.5,226.6 608.2,226.6 608.2,224.8 608.2,223.3 609.3,223.3 609.3,221.7 610.4,221.7 610.4,220.3 611.4,220.3 612.8,220.3 612.8,219.6 614.0,219.6 614.0,219.0 614.0,219.1 615.8,219.1 615.8,219.2 617.9,219.2 618.9,219.2 618.9,218.0 620.1,218.0 620.1,216.3 620.1,215.1 621.1,215.1 621.1,214.8 622.9,214.8 622.9,214.5 624.3,214.5 624.3,213.1 625.6,213.1 626.8,213.1 626.8,211.9 628.2,211.9 628.2,210.8 629.5,210.8 629.5,209.7 630.7,209.7 630.7,208.7 631.8,208.7 631.8,207.4 631.8,205.5 633.3,205.5 635.1,205.5 635.1,205.5 637.1,205.5 637.1,205.5 637.1,204.1 638.0,204.1 638.0,202.8 638.9,202.8 639.7,202.8 639.7,201.6 639.7,201.6 641.5,201.6 642.7,201.6 642.7,201.6 642.7,201.6 644.6,201.6 644.6,201.6 646.0,201.6 646.5,201.6 646.5,200.4 646.5,198.8 647.2,198.8 647.2,196.9 647.7,196.9 648.2,196.9 648.2,195.2 649.7,195.2 649.7,195.0 649.7,194.7 651.3,194.7 651.3,193.5 652.4,193.5 653.4,193.5 653.4,192.3 654.4,192.3 654.4,191.1 656.4,191.1 656.4,189.6 656.4,188.7 657.8,188.7 659.5,188.7 659.5,187.5 660.7,187.5 660.7,186.3 660.7,185.5 661.6,185.5 661.6,183.8 662.7,183.8 663.6,183.8 663.6,182.4 665.2,182.4 665.2,181.3 665.2,180.3 666.7,180.3 666.7,180.3 666.7,178.8 666.7,178.8 668.5,178.8 668.5,178.8 669.8,178.8 669.8,178.5 671.4,178.5 672.9,178.5 672.9,178.3 674.2,178.3 674.2,177.0 675.5,177.0 675.5,175.7 675.5,175.0 676.8,175.0 676.8,174.1 678.7,174.1" fill="none" stroke="#1a1a1a" stroke-width="1.15" stroke-linejoin="round"/>
<polyline points="575.3,277.6 575.3,277.6 575.3,276.0 575.3,274.5 575.3,274.5 575.3,274.5 575.3,272.9 575.3,272.9 575.3,271.0 575.4,271.0 575.4,269.2 575.4,268.1 575.4,268.1 575.4,266.2 575.5,266.2 575.5,264.7 575.6,264.7 576.3,264.7 576.3,263.0 576.3,261.0 577.2,261.0 577.2,259.9 578.0,259.9 579.0,259.9 579.0,258.4 579.0,256.7 579.9,256.7 579.9,254.8 580.8,254.8 580.8,253.0 581.4,253.0 582.0,253.0 582.0,251.1 582.6,251.1 582.6,249.4 583.3,249.4 583.3,247.7 583.3,246.4 583.8,246.4 583.8,244.9 584.4,244.9 585.4,244.9 585.4,243.5 586.2,243.5 586.2,242.2 586.2,241.3 587.4,241.3 588.4,241.3 588.4,240.5 589.8,240.5 589.8,239.5 589.8,237.7 591.6,237.7 592.6,237.7 592.6,235.6 593.4,235.6 593.4,234.1 593.4,232.3 594.1,232.3 594.1,231.0 594.6,231.0 595.2,231.0 595.2,229.6 596.2,229.6 596.2,228.3 596.2,227.0 597.1,227.0 597.9,227.0 597.9,226.0 598.6,226.0 598.6,224.8 599.8,224.8 599.8,223.5 599.8,222.2 601.2,222.2 601.2,220.9 602.4,220.9 603.6,220.9 603.6,220.0 604.9,220.0 604.9,219.1 606.2,219.1 606.2,218.1 606.2,217.1 607.6,217.1 607.6,216.2 609.3,216.2 611.0,216.2 611.0,215.4 611.0,214.5 612.7,214.5 614.1,214.5 614.1,213.1 615.4,213.1 615.4,211.8 616.6,211.8 616.6,210.6 616.6,210.3 618.2,210.3 618.2,210.0 620.1,210.0 621.7,210.0 621.7,209.7 623.8,209.7 623.8,208.8 623.8,208.1 625.6,208.1 627.1,208.1 627.1,206.2 627.1,204.9 628.1,204.9 628.1,205.2 630.3,205.2 630.3,205.5 632.0,205.5 632.0,204.9 633.4,204.9 635.2,204.9 635.2,204.2 636.1,204.2 636.1,203.1 636.1,201.6 637.4,201.6 638.4,201.6 638.4,200.4 639.5,200.4 639.5,199.7 639.5,198.7 640.9,198.7 640.9,197.8 642.3,197.8 643.7,197.8 643.7,196.8 643.7,196.1 644.8,196.1 644.8,195.2 646.0,195.2 646.5,195.2 646.5,194.1 647.2,194.1 647.2,192.7 647.2,191.9 649.0,191.9 649.0,191.4 650.3,191.4 651.8,191.4 651.8,190.3 651.8,189.1 653.4,189.1 655.1,189.1 655.1,187.7 655.1,186.5 656.4,186.5 656.4,185.7 658.1,185.7 658.1,185.0 659.5,185.0 660.4,185.0 660.4,184.1 660.4,182.9 661.6,182.9 661.6,181.9 662.6,181.9 662.6,180.6 663.5,180.6 664.2,180.6 664.2,179.7 664.2,178.3 665.2,178.3 665.2,178.3 666.5,178.3 666.5,178.3 667.8,178.3 667.8,177.7 669.5,177.7 670.8,177.7 670.8,177.3 670.8,176.1 672.3,176.1 672.3,174.7 673.9,174.7 676.0,174.7 676.0,173.6 676.0,173.9 677.6,173.9 678.7,173.9 678.7,174.1" fill="none" stroke="#EE1C1C" stroke-width="1.15" stroke-linejoin="round"/>
<text x="576.7" y="183.9" font-size="8.5" fill="#111" textLength="60.1" lengthAdjust="spacingAndGlyphs" stroke="#111" stroke-width="0.18">Fast Proinsulin</text>
<text x="681.5" y="256.2" font-size="8.3" fill="#111" text-anchor="end" textLength="15.0" lengthAdjust="spacingAndGlyphs" stroke="#111" stroke-width="0.18">AUC</text>
<text x="681.5" y="266.4" font-size="8.3" fill="#111" text-anchor="end" textLength="74.1" lengthAdjust="spacingAndGlyphs" stroke="#111" stroke-width="0.18">Male 0.62±0.04(***)</text>
<text x="681.5" y="276.8" font-size="8.3" fill="#EE1C1C" text-anchor="end" textLength="81.8" lengthAdjust="spacingAndGlyphs" stroke="#EE1C1C" stroke-width="0.18">Female 0.66±0.03(***)</text>
<text x="629.0" y="149.1" font-size="8.6" fill="#111" text-anchor="middle" textLength="52.1" lengthAdjust="spacingAndGlyphs" stroke="#111" stroke-width="0.18">False Positive</text>
<text x="631.6" y="308.9" font-size="8.6" fill="#111" text-anchor="middle" textLength="52.2" lengthAdjust="spacingAndGlyphs" stroke="#111" stroke-width="0.18">False Positive</text>
<text x="548.8" y="75.1" font-size="8.6" fill="#111" stroke="#111" stroke-width="0.18" text-anchor="middle" textLength="49.4" lengthAdjust="spacingAndGlyphs" transform="rotate(-90 548.8 75.1)">True Positive</text>
<text x="552.4" y="235.3" font-size="8.6" fill="#111" stroke="#111" stroke-width="0.18" text-anchor="middle" textLength="49" lengthAdjust="spacingAndGlyphs" transform="rotate(-90 552.4 235.3)">True Positive</text></svg></body></html>
